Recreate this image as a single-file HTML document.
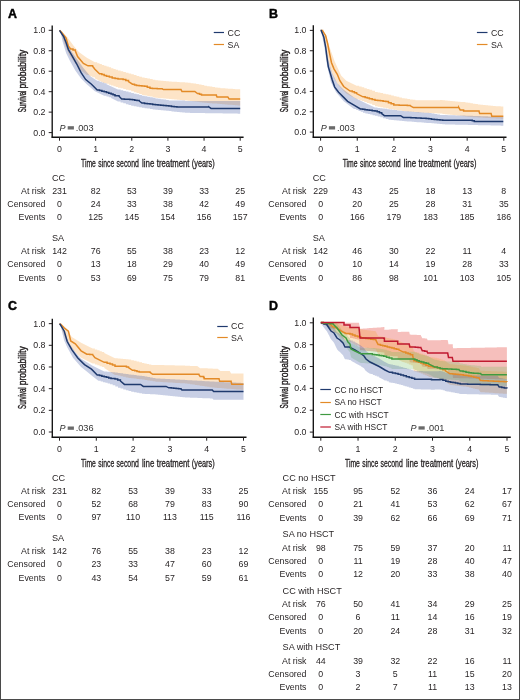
<!DOCTYPE html>
<html><head><meta charset="utf-8"><style>
html,body{margin:0;padding:0;background:#fff;}
svg{display:block;font-family:"Liberation Sans", sans-serif;filter:blur(0.25px);}
</style></head><body>
<svg width="520" height="700" viewBox="0 0 520 700">
<rect x="0" y="0" width="520" height="700" fill="#fff"/>
<text x="8" y="18.2" font-size="12.4" text-anchor="start" font-weight="bold" font-style="normal" fill="#000" stroke="#000" stroke-width="0.45">A</text>
<path d="M59.5 30.3 L62 31.5 L67.2 36.9 L73 45 L78.8 51.9 L86.8 57.7 L94.9 62.3 L97.23 62.3 L97.23 63.17 L99.55 63.17 L99.55 64.05 L101.88 64.05 L101.88 64.92 L104.2 64.92 L104.2 65.8 L106.5 65.8 L106.5 66.58 L108.8 66.58 L108.8 67.37 L111.1 67.37 L111.1 68.15 L113.4 68.15 L113.4 68.93 L115.7 68.93 L115.7 69.72 L118 69.72 L118 70.5 L120.62 70.5 L120.62 71.25 L123.25 71.25 L123.25 72 L125.88 72 L125.88 72.75 L128.5 72.75 L128.5 73.5 L131.18 73.5 L131.18 74.3 L133.86 74.3 L133.86 75.1 L136.54 75.1 L136.54 75.9 L139.22 75.9 L139.22 76.7 L141.9 76.7 L141.9 77.5 L144.6 77.5 L144.6 78.04 L147.3 78.04 L147.3 78.58 L150 78.58 L150 79.12 L152.7 79.12 L152.7 79.66 L155.4 79.66 L155.4 80.2 L158.08 80.2 L158.08 80.46 L160.76 80.46 L160.76 80.72 L163.44 80.72 L163.44 80.98 L166.12 80.98 L166.12 81.24 L168.8 81.24 L168.8 81.5 L171.5 81.5 L171.5 81.67 L174.2 81.67 L174.2 81.83 L176.9 81.83 L176.9 82 L179.6 82 L179.6 82.17 L182.3 82.17 L182.3 82.33 L185 82.33 L185 82.5 L187.83 82.5 L187.83 82.83 L190.67 82.83 L190.67 83.17 L193.5 83.17 L193.5 83.5 L196.18 83.5 L196.18 84.04 L198.86 84.04 L198.86 84.58 L201.54 84.58 L201.54 85.12 L204.22 85.12 L204.22 85.66 L206.9 85.66 L206.9 86.2 L209.6 86.2 L209.6 86.6 L212.3 86.6 L212.3 87 L215 87 L215 87.4 L217.7 87.4 L217.7 87.8 L220.4 87.8 L220.4 88.2 L222.88 88.2 L222.88 88.36 L225.35 88.36 L225.35 88.53 L227.82 88.53 L227.82 88.69 L230.3 88.69 L230.3 88.85 L232.78 88.85 L232.78 89.01 L235.25 89.01 L235.25 89.17 L237.72 89.17 L237.72 89.34 L240.2 89.34 L240.2 89.5 L240.2 105.7 L240.2 105.49 L237.64 105.49 L237.64 105.28 L235.08 105.28 L235.08 105.08 L232.52 105.08 L232.52 104.87 L229.95 104.87 L229.95 104.66 L227.39 104.66 L227.39 104.45 L224.83 104.45 L224.83 104.25 L222.27 104.25 L222.27 104.04 L219.71 104.04 L219.71 103.83 L217.15 103.83 L217.15 103.62 L214.58 103.62 L214.58 103.42 L212.02 103.42 L212.02 103.21 L209.46 103.21 L209.46 103 L206.9 103 L206.9 102.71 L204.47 102.71 L204.47 102.42 L202.03 102.42 L202.03 102.13 L199.6 102.13 L199.6 101.84 L197.17 101.84 L197.17 101.56 L194.73 101.56 L194.73 101.27 L192.3 101.27 L192.3 100.98 L189.87 100.98 L189.87 100.69 L187.43 100.69 L187.43 100.4 L185 100.4 L185 100.17 L182.3 100.17 L182.3 99.93 L179.6 99.93 L179.6 99.7 L176.9 99.7 L176.9 99.47 L174.2 99.47 L174.2 99.23 L171.5 99.23 L171.5 99 L168.8 99 L168.8 98.74 L166.12 98.74 L166.12 98.48 L163.44 98.48 L163.44 98.22 L160.76 98.22 L160.76 97.96 L158.08 97.96 L158.08 97.7 L155.4 97.7 L155.4 97.16 L152.7 97.16 L152.7 96.62 L150 96.62 L150 96.08 L147.3 96.08 L147.3 95.54 L144.6 95.54 L144.6 95 L141.9 95 L141.9 94.06 L139.22 94.06 L139.22 93.12 L136.54 93.12 L136.54 92.18 L133.86 92.18 L133.86 91.24 L131.18 91.24 L131.18 90.3 L128.5 90.3 L128.5 89.65 L125.88 89.65 L125.88 89 L123.25 89 L123.25 88.35 L120.62 88.35 L120.62 87.7 L118 87.7 L118 86.93 L115.7 86.93 L115.7 86.17 L113.4 86.17 L113.4 85.4 L111.1 85.4 L111.1 84.63 L108.8 84.63 L108.8 83.87 L106.5 83.87 L106.5 83.1 L104.2 83.1 L94.9 78.5 L94.9 77.33 L92.2 77.33 L92.2 76.17 L89.5 76.17 L89.5 75 L86.8 75 L81.1 70.4 L75.3 63.5 L69.5 55.4 L64.9 45 L61 33 L59.5 30.3 Z" fill="#f7a545" fill-opacity="0.3" stroke="none"/>
<path d="M59.5 30.3 L62 32.5 L68.4 45 L71.8 51.9 L77.6 60 L83.4 68.1 L90.3 76.2 L97.2 80.8 L99.53 80.8 L99.53 81.65 L101.85 81.65 L101.85 82.5 L104.17 82.5 L104.17 83.35 L106.5 83.35 L106.5 84.2 L118 89.5 L120.62 89.5 L120.62 90.2 L123.25 90.2 L123.25 90.9 L125.88 90.9 L125.88 91.6 L128.5 91.6 L128.5 92.3 L131.18 92.3 L131.18 92.98 L133.86 92.98 L133.86 93.66 L136.54 93.66 L136.54 94.34 L139.22 94.34 L139.22 95.02 L141.9 95.02 L141.9 95.7 L144.6 95.7 L144.6 96.24 L147.3 96.24 L147.3 96.78 L150 96.78 L150 97.32 L152.7 97.32 L152.7 97.86 L155.4 97.86 L155.4 98.4 L158.08 98.4 L158.08 98.8 L160.76 98.8 L160.76 99.2 L163.44 99.2 L163.44 99.6 L166.12 99.6 L166.12 100 L168.8 100 L168.8 100.4 L185 100.4 L185 101 L240.2 101 L240.2 101.6 L240.2 113.7 L240.2 113.66 L237.69 113.66 L237.69 113.62 L235.18 113.62 L235.18 113.58 L232.67 113.58 L232.67 113.54 L230.16 113.54 L230.16 113.5 L227.65 113.5 L227.65 113.45 L225.15 113.45 L225.15 113.41 L222.64 113.41 L222.64 113.37 L220.13 113.37 L220.13 113.33 L217.62 113.33 L217.62 113.29 L215.11 113.29 L215.11 113.25 L212.6 113.25 L212.6 113.21 L210.09 113.21 L210.09 113.17 L207.58 113.17 L207.58 113.13 L205.07 113.13 L205.07 113.09 L202.56 113.09 L202.56 113.05 L200.05 113.05 L200.05 113 L197.55 113 L197.55 112.96 L195.04 112.96 L195.04 112.92 L192.53 112.92 L192.53 112.88 L190.02 112.88 L190.02 112.84 L187.51 112.84 L187.51 112.8 L185 112.8 L185 112.52 L182.3 112.52 L182.3 112.23 L179.6 112.23 L179.6 111.95 L176.9 111.95 L176.9 111.67 L174.2 111.67 L174.2 111.38 L171.5 111.38 L171.5 111.1 L168.8 111.1 L168.8 110.84 L166.12 110.84 L166.12 110.58 L163.44 110.58 L163.44 110.32 L160.76 110.32 L160.76 110.06 L158.08 110.06 L158.08 109.8 L155.4 109.8 L155.4 109.4 L152.7 109.4 L152.7 109 L150 109 L150 108.6 L147.3 108.6 L147.3 108.2 L144.6 108.2 L144.6 107.8 L141.9 107.8 L141.9 107.26 L139.22 107.26 L139.22 106.72 L136.54 106.72 L136.54 106.18 L133.86 106.18 L133.86 105.64 L131.18 105.64 L131.18 105.1 L128.5 105.1 L128.5 104.2 L125.88 104.2 L125.88 103.3 L123.25 103.3 L123.25 102.4 L120.62 102.4 L120.62 101.5 L118 101.5 L111.1 98.1 L111.1 97.33 L108.8 97.33 L108.8 96.57 L106.5 96.57 L106.5 95.8 L104.2 95.8 L94.9 91.2 L86.8 84.2 L81.1 78.5 L75.3 70.4 L69.5 60 L66.1 53.1 L62.6 41.5 L61 34 L59.5 30.3 Z" fill="#4a5fa8" fill-opacity="0.3" stroke="none"/>
<path d="M59.5 30.3 L61.5 32.3 L66.1 38.1 L68.4 46.2 L70.7 49 L73 49 L73 49.9 L75.3 49.9 L75.3 50.8 L77.6 56.5 L83.4 63.5 L88 65.8 L92.6 65.8 L92.6 66.3 L94.9 69.2 L99.5 73.8 L101.83 73.8 L101.83 74.6 L104.17 74.6 L104.17 75.4 L106.5 75.4 L106.5 76.2 L109.35 76.2 L109.35 77.05 L112.2 77.05 L112.2 77.9 L115.1 77.9 L115.1 78.45 L118 78.45 L118 79 L123.1 79 L123.1 79.5 L125.8 79.5 L125.8 80.5 L128.5 80.5 L128.5 81.5 L132.5 84.2 L134.5 84.2 L134.5 84.9 L136.5 84.9 L136.5 85.6 L139.2 85.6 L139.2 85.8 L141.9 85.8 L141.9 86 L144.6 86 L144.6 86.2 L147.3 86.2 L147.3 87.25 L150 87.25 L150 88.3 L152.42 88.3 L152.42 88.42 L154.84 88.42 L154.84 88.54 L157.26 88.54 L157.26 88.66 L159.68 88.66 L159.68 88.78 L162.1 88.78 L162.1 88.9 L163.5 89.6 L181 89.6 L181 89.6 L182 91.5 L194.8 91.5 L194.8 91.5 L197.5 93.6 L199.5 93.6 L199.5 94.25 L201.5 94.25 L201.5 94.9 L216.3 94.9 L216.3 95.3 L217 96.9 L227.8 96.9 L227.8 96.9 L229.1 98.9 L240.2 98.9 L240.2 98.9" fill="none" stroke="#e38a27" stroke-width="1.5" stroke-linejoin="miter"/>
<path d="M59.5 30.3 L60.3 31.7 L63.8 36.9 L66.1 42.7 L68.4 49.6 L71.8 55.4 L76.5 63.5 L81.1 72.7 L85.7 79.6 L91.5 84.2 L97.2 90 L99.53 90 L99.53 90.57 L101.87 90.57 L101.87 91.13 L104.2 91.13 L104.2 91.7 L106.5 91.7 L106.5 92.47 L108.8 92.47 L108.8 93.23 L111.1 93.23 L111.1 94 L113.05 94 L113.05 94.85 L115 94.85 L115 95.7 L119 95.7 L119 96.3 L121.7 99 L124.4 99 L124.4 99.17 L127.1 99.17 L127.1 99.35 L129.8 99.35 L129.8 99.53 L132.5 99.53 L132.5 99.7 L134.73 99.7 L134.73 100.13 L136.97 100.13 L136.97 100.57 L139.2 100.57 L139.2 101 L141.9 103.1 L144.6 103.1 L144.6 103.42 L147.3 103.42 L147.3 103.75 L150 103.75 L150 104.08 L152.7 104.08 L152.7 104.4 L155.38 104.4 L155.38 104.68 L158.06 104.68 L158.06 104.96 L160.74 104.96 L160.74 105.24 L163.42 105.24 L163.42 105.52 L166.1 105.52 L166.1 105.8 L168.8 105.8 L168.8 106.12 L171.5 106.12 L171.5 106.45 L174.2 106.45 L174.2 106.77 L176.9 106.77 L176.9 107.1 L185 107.1 L185 107.1 L208.9 107.1 L208.9 107 L211 108.4 L240.2 108.4 L240.2 108.4" fill="none" stroke="#1f3a6e" stroke-width="1.5" stroke-linejoin="miter"/>
<line x1="52.2" y1="25.6" x2="52.2" y2="137.8" stroke="#111" stroke-width="1.35"/>
<line x1="51.6" y1="137.2" x2="243.6" y2="137.2" stroke="#111" stroke-width="1.35"/>
<line x1="48.7" y1="30.3" x2="52.2" y2="30.3" stroke="#231f20" stroke-width="1.0"/>
<text x="45.5" y="33.3" font-size="8.8" text-anchor="end" font-weight="normal" font-style="normal" fill="#231f20" >1.0</text>
<line x1="48.7" y1="50.76" x2="52.2" y2="50.76" stroke="#231f20" stroke-width="1.0"/>
<text x="45.5" y="53.76" font-size="8.8" text-anchor="end" font-weight="normal" font-style="normal" fill="#231f20" >0.8</text>
<line x1="48.7" y1="71.22" x2="52.2" y2="71.22" stroke="#231f20" stroke-width="1.0"/>
<text x="45.5" y="74.22" font-size="8.8" text-anchor="end" font-weight="normal" font-style="normal" fill="#231f20" >0.6</text>
<line x1="48.7" y1="91.68" x2="52.2" y2="91.68" stroke="#231f20" stroke-width="1.0"/>
<text x="45.5" y="94.68" font-size="8.8" text-anchor="end" font-weight="normal" font-style="normal" fill="#231f20" >0.4</text>
<line x1="48.7" y1="112.14" x2="52.2" y2="112.14" stroke="#231f20" stroke-width="1.0"/>
<text x="45.5" y="115.14" font-size="8.8" text-anchor="end" font-weight="normal" font-style="normal" fill="#231f20" >0.2</text>
<line x1="48.7" y1="132.6" x2="52.2" y2="132.6" stroke="#231f20" stroke-width="1.0"/>
<text x="45.5" y="135.6" font-size="8.8" text-anchor="end" font-weight="normal" font-style="normal" fill="#231f20" >0.0</text>
<line x1="59.5" y1="137.2" x2="59.5" y2="140.7" stroke="#231f20" stroke-width="1.0"/>
<text x="59.5" y="152.3" font-size="8.8" text-anchor="middle" font-weight="normal" font-style="normal" fill="#231f20" >0</text>
<line x1="95.64" y1="137.2" x2="95.64" y2="140.7" stroke="#231f20" stroke-width="1.0"/>
<text x="95.64" y="152.3" font-size="8.8" text-anchor="middle" font-weight="normal" font-style="normal" fill="#231f20" >1</text>
<line x1="131.78" y1="137.2" x2="131.78" y2="140.7" stroke="#231f20" stroke-width="1.0"/>
<text x="131.78" y="152.3" font-size="8.8" text-anchor="middle" font-weight="normal" font-style="normal" fill="#231f20" >2</text>
<line x1="167.92" y1="137.2" x2="167.92" y2="140.7" stroke="#231f20" stroke-width="1.0"/>
<text x="167.92" y="152.3" font-size="8.8" text-anchor="middle" font-weight="normal" font-style="normal" fill="#231f20" >3</text>
<line x1="204.06" y1="137.2" x2="204.06" y2="140.7" stroke="#231f20" stroke-width="1.0"/>
<text x="204.06" y="152.3" font-size="8.8" text-anchor="middle" font-weight="normal" font-style="normal" fill="#231f20" >4</text>
<line x1="240.2" y1="137.2" x2="240.2" y2="140.7" stroke="#231f20" stroke-width="1.0"/>
<text x="240.2" y="152.3" font-size="8.8" text-anchor="middle" font-weight="normal" font-style="normal" fill="#231f20" >5</text>
<text x="81" y="167.3" font-size="10.2" fill="#231f20" stroke="#231f20" stroke-width="0.3" textLength="14.9" lengthAdjust="spacingAndGlyphs">Time</text>
<text x="98.3" y="167.3" font-size="10.2" fill="#231f20" stroke="#231f20" stroke-width="0.3" textLength="16" lengthAdjust="spacingAndGlyphs">since</text>
<text x="116.6" y="167.3" font-size="10.2" fill="#231f20" stroke="#231f20" stroke-width="0.3" textLength="22.3" lengthAdjust="spacingAndGlyphs">second</text>
<text x="142.1" y="167.3" font-size="10.2" fill="#231f20" stroke="#231f20" stroke-width="0.3" textLength="12.3" lengthAdjust="spacingAndGlyphs">line</text>
<text x="156.8" y="167.3" font-size="10.2" fill="#231f20" stroke="#231f20" stroke-width="0.3" textLength="32.7" lengthAdjust="spacingAndGlyphs">treatment</text>
<text x="191.8" y="167.3" font-size="10.2" fill="#231f20" stroke="#231f20" stroke-width="0.3" textLength="22.9" lengthAdjust="spacingAndGlyphs">(years)</text>
<text x="0" y="0" font-size="10" fill="#231f20" stroke="#231f20" stroke-width="0.4" textLength="21.6" lengthAdjust="spacingAndGlyphs" transform="translate(26.4 112.2) rotate(-90)">Survival</text>
<text x="23.6" y="0" font-size="10" fill="#231f20" stroke="#231f20" stroke-width="0.4" textLength="39" lengthAdjust="spacingAndGlyphs" transform="translate(26.4 112.2) rotate(-90)">probability</text>
<line x1="213.75" y1="32.5" x2="224" y2="32.5" stroke="#1f3a6e" stroke-width="1.2"/>
<text x="227.6" y="36" font-size="8.8" text-anchor="start" font-weight="normal" font-style="normal" fill="#231f20" >CC</text>
<line x1="213.75" y1="44.5" x2="224" y2="44.5" stroke="#e38a27" stroke-width="1.2"/>
<text x="227.6" y="47.6" font-size="8.8" text-anchor="start" font-weight="normal" font-style="normal" fill="#231f20" >SA</text>
<text x="59.6" y="130.8" font-size="9" text-anchor="start" font-weight="normal" font-style="italic" fill="#333" >P</text>
<rect x="67.7" y="126.2" width="6.2" height="3.3" fill="#6a6a6a"/>
<text x="75.7" y="130.8" font-size="9.2" text-anchor="start" font-weight="normal" font-style="normal" fill="#333" >.003</text>
<text x="52" y="180.5" font-size="9.1" text-anchor="start" font-weight="normal" font-style="normal" fill="#231f20" >CC</text>
<text x="45.5" y="193.8" font-size="8.8" text-anchor="end" font-weight="normal" font-style="normal" fill="#231f20" >At risk</text>
<text x="59.5" y="193.8" font-size="8.8" text-anchor="middle" font-weight="normal" font-style="normal" fill="#231f20" >231</text>
<text x="95.64" y="193.8" font-size="8.8" text-anchor="middle" font-weight="normal" font-style="normal" fill="#231f20" >82</text>
<text x="131.78" y="193.8" font-size="8.8" text-anchor="middle" font-weight="normal" font-style="normal" fill="#231f20" >53</text>
<text x="167.92" y="193.8" font-size="8.8" text-anchor="middle" font-weight="normal" font-style="normal" fill="#231f20" >39</text>
<text x="204.06" y="193.8" font-size="8.8" text-anchor="middle" font-weight="normal" font-style="normal" fill="#231f20" >33</text>
<text x="240.2" y="193.8" font-size="8.8" text-anchor="middle" font-weight="normal" font-style="normal" fill="#231f20" >25</text>
<text x="45.5" y="207.05" font-size="8.8" text-anchor="end" font-weight="normal" font-style="normal" fill="#231f20" >Censored</text>
<text x="59.5" y="207.05" font-size="8.8" text-anchor="middle" font-weight="normal" font-style="normal" fill="#231f20" >0</text>
<text x="95.64" y="207.05" font-size="8.8" text-anchor="middle" font-weight="normal" font-style="normal" fill="#231f20" >24</text>
<text x="131.78" y="207.05" font-size="8.8" text-anchor="middle" font-weight="normal" font-style="normal" fill="#231f20" >33</text>
<text x="167.92" y="207.05" font-size="8.8" text-anchor="middle" font-weight="normal" font-style="normal" fill="#231f20" >38</text>
<text x="204.06" y="207.05" font-size="8.8" text-anchor="middle" font-weight="normal" font-style="normal" fill="#231f20" >42</text>
<text x="240.2" y="207.05" font-size="8.8" text-anchor="middle" font-weight="normal" font-style="normal" fill="#231f20" >49</text>
<text x="45.5" y="220.3" font-size="8.8" text-anchor="end" font-weight="normal" font-style="normal" fill="#231f20" >Events</text>
<text x="59.5" y="220.3" font-size="8.8" text-anchor="middle" font-weight="normal" font-style="normal" fill="#231f20" >0</text>
<text x="95.64" y="220.3" font-size="8.8" text-anchor="middle" font-weight="normal" font-style="normal" fill="#231f20" >125</text>
<text x="131.78" y="220.3" font-size="8.8" text-anchor="middle" font-weight="normal" font-style="normal" fill="#231f20" >145</text>
<text x="167.92" y="220.3" font-size="8.8" text-anchor="middle" font-weight="normal" font-style="normal" fill="#231f20" >154</text>
<text x="204.06" y="220.3" font-size="8.8" text-anchor="middle" font-weight="normal" font-style="normal" fill="#231f20" >156</text>
<text x="240.2" y="220.3" font-size="8.8" text-anchor="middle" font-weight="normal" font-style="normal" fill="#231f20" >157</text>
<text x="52" y="240.7" font-size="9.1" text-anchor="start" font-weight="normal" font-style="normal" fill="#231f20" >SA</text>
<text x="45.5" y="254" font-size="8.8" text-anchor="end" font-weight="normal" font-style="normal" fill="#231f20" >At risk</text>
<text x="59.5" y="254" font-size="8.8" text-anchor="middle" font-weight="normal" font-style="normal" fill="#231f20" >142</text>
<text x="95.64" y="254" font-size="8.8" text-anchor="middle" font-weight="normal" font-style="normal" fill="#231f20" >76</text>
<text x="131.78" y="254" font-size="8.8" text-anchor="middle" font-weight="normal" font-style="normal" fill="#231f20" >55</text>
<text x="167.92" y="254" font-size="8.8" text-anchor="middle" font-weight="normal" font-style="normal" fill="#231f20" >38</text>
<text x="204.06" y="254" font-size="8.8" text-anchor="middle" font-weight="normal" font-style="normal" fill="#231f20" >23</text>
<text x="240.2" y="254" font-size="8.8" text-anchor="middle" font-weight="normal" font-style="normal" fill="#231f20" >12</text>
<text x="45.5" y="267.25" font-size="8.8" text-anchor="end" font-weight="normal" font-style="normal" fill="#231f20" >Censored</text>
<text x="59.5" y="267.25" font-size="8.8" text-anchor="middle" font-weight="normal" font-style="normal" fill="#231f20" >0</text>
<text x="95.64" y="267.25" font-size="8.8" text-anchor="middle" font-weight="normal" font-style="normal" fill="#231f20" >13</text>
<text x="131.78" y="267.25" font-size="8.8" text-anchor="middle" font-weight="normal" font-style="normal" fill="#231f20" >18</text>
<text x="167.92" y="267.25" font-size="8.8" text-anchor="middle" font-weight="normal" font-style="normal" fill="#231f20" >29</text>
<text x="204.06" y="267.25" font-size="8.8" text-anchor="middle" font-weight="normal" font-style="normal" fill="#231f20" >40</text>
<text x="240.2" y="267.25" font-size="8.8" text-anchor="middle" font-weight="normal" font-style="normal" fill="#231f20" >49</text>
<text x="45.5" y="280.5" font-size="8.8" text-anchor="end" font-weight="normal" font-style="normal" fill="#231f20" >Events</text>
<text x="59.5" y="280.5" font-size="8.8" text-anchor="middle" font-weight="normal" font-style="normal" fill="#231f20" >0</text>
<text x="95.64" y="280.5" font-size="8.8" text-anchor="middle" font-weight="normal" font-style="normal" fill="#231f20" >53</text>
<text x="131.78" y="280.5" font-size="8.8" text-anchor="middle" font-weight="normal" font-style="normal" fill="#231f20" >69</text>
<text x="167.92" y="280.5" font-size="8.8" text-anchor="middle" font-weight="normal" font-style="normal" fill="#231f20" >75</text>
<text x="204.06" y="280.5" font-size="8.8" text-anchor="middle" font-weight="normal" font-style="normal" fill="#231f20" >79</text>
<text x="240.2" y="280.5" font-size="8.8" text-anchor="middle" font-weight="normal" font-style="normal" fill="#231f20" >81</text>
<text x="269" y="18.1" font-size="12.4" text-anchor="start" font-weight="bold" font-style="normal" fill="#000" stroke="#000" stroke-width="0.45">B</text>
<path d="M320.6 30.4 L323 30.4 L323 31 L326 36 L329.6 47.3 L334.7 61.4 L341.1 75.6 L346.3 80.7 L356.6 85.8 L359.16 85.8 L359.16 86.58 L361.72 86.58 L361.72 87.36 L364.28 87.36 L364.28 88.14 L366.84 88.14 L366.84 88.92 L369.4 88.92 L369.4 89.7 L372.2 89.7 L372.2 90.85 L375 90.85 L375 92 L377.7 92 L377.7 92.56 L380.4 92.56 L380.4 93.12 L383.1 93.12 L383.1 93.68 L385.8 93.68 L385.8 94.24 L388.5 94.24 L388.5 94.8 L391.18 94.8 L391.18 95.48 L393.86 95.48 L393.86 96.16 L396.54 96.16 L396.54 96.84 L399.22 96.84 L399.22 97.52 L401.9 97.52 L401.9 98.2 L404.6 98.2 L404.6 98.6 L407.3 98.6 L407.3 99 L410 99 L410 99.4 L412.7 99.4 L412.7 99.8 L415.4 99.8 L415.4 100.2 L440 100.2 L440 100.1 L442.54 100.1 L442.54 100.32 L445.09 100.32 L445.09 100.54 L447.63 100.54 L447.63 100.77 L450.18 100.77 L450.18 100.99 L452.72 100.99 L452.72 101.21 L455.27 101.21 L455.27 101.43 L457.81 101.43 L457.81 101.66 L460.36 101.66 L460.36 101.88 L462.9 101.88 L462.9 102.1 L465.4 102.1 L465.4 102.49 L467.9 102.49 L467.9 102.87 L470.4 102.87 L470.4 103.26 L472.9 103.26 L472.9 103.64 L475.4 103.64 L475.4 104.03 L477.9 104.03 L477.9 104.41 L480.4 104.41 L480.4 104.8 L482.94 104.8 L482.94 105.02 L485.49 105.02 L485.49 105.24 L488.03 105.24 L488.03 105.47 L490.58 105.47 L490.58 105.69 L493.12 105.69 L493.12 105.91 L495.67 105.91 L495.67 106.13 L498.21 106.13 L498.21 106.36 L500.76 106.36 L500.76 106.58 L503.3 106.58 L503.3 106.8 L503.3 118.9 L503.3 118.75 L500.74 118.75 L500.74 118.61 L498.18 118.61 L498.18 118.46 L495.62 118.46 L495.62 118.32 L493.05 118.32 L493.05 118.17 L490.49 118.17 L490.49 118.02 L487.93 118.02 L487.93 117.88 L485.37 117.88 L485.37 117.73 L482.81 117.73 L482.81 117.58 L480.25 117.58 L480.25 117.44 L477.68 117.44 L477.68 117.29 L475.12 117.29 L475.12 117.15 L472.56 117.15 L472.56 117 L470 117 L470 116.72 L467.5 116.72 L467.5 116.43 L465 116.43 L465 116.15 L462.5 116.15 L462.5 115.87 L460 115.87 L460 115.58 L457.5 115.58 L457.5 115.3 L455 115.3 L455 115.02 L452.5 115.02 L452.5 114.73 L450 114.73 L450 114.45 L447.5 114.45 L447.5 114.17 L445 114.17 L445 113.88 L442.5 113.88 L442.5 113.6 L440 113.6 L440 113.47 L437.54 113.47 L437.54 113.34 L435.08 113.34 L435.08 113.21 L432.62 113.21 L432.62 113.08 L430.16 113.08 L430.16 112.95 L427.7 112.95 L427.7 112.82 L425.24 112.82 L425.24 112.69 L422.78 112.69 L422.78 112.56 L420.32 112.56 L420.32 112.43 L417.86 112.43 L417.86 112.3 L415.4 112.3 L415.4 112.04 L412.7 112.04 L412.7 111.78 L410 111.78 L410 111.52 L407.3 111.52 L407.3 111.26 L404.6 111.26 L404.6 111 L401.9 111 L401.9 110.58 L399.22 110.58 L399.22 110.16 L396.54 110.16 L396.54 109.74 L393.86 109.74 L393.86 109.32 L391.18 109.32 L391.18 108.9 L388.5 108.9 L388.5 108.36 L385.8 108.36 L385.8 107.82 L383.1 107.82 L383.1 107.28 L380.4 107.28 L380.4 106.74 L377.7 106.74 L377.7 106.2 L375 106.2 L375 105 L372.2 105 L372.2 103.8 L369.4 103.8 L369.4 102.9 L366.84 102.9 L366.84 102 L364.28 102 L364.28 101.1 L361.72 101.1 L361.72 100.2 L359.16 100.2 L359.16 99.3 L356.6 99.3 L346.3 93.6 L339.9 87.1 L334.7 79.4 L330.9 70.4 L328 60 L325 45 L322 33 L320.6 30.4 Z" fill="#f7a545" fill-opacity="0.3" stroke="none"/>
<path d="M320.6 30.4 L322 32 L325 45 L328.3 60.1 L332.1 73 L337.3 83.3 L343.7 89.7 L354 97.4 L366.8 103.8 L375 107.6 L377.45 107.6 L377.45 107.91 L379.89 107.91 L379.89 108.22 L382.34 108.22 L382.34 108.53 L384.78 108.53 L384.78 108.84 L387.23 108.84 L387.23 109.15 L389.67 109.15 L389.67 109.45 L392.12 109.45 L392.12 109.76 L394.56 109.76 L394.56 110.07 L397.01 110.07 L397.01 110.38 L399.45 110.38 L399.45 110.69 L401.9 110.69 L401.9 111 L404.35 111 L404.35 111.18 L406.79 111.18 L406.79 111.36 L409.24 111.36 L409.24 111.55 L411.68 111.55 L411.68 111.73 L414.13 111.73 L414.13 111.91 L416.57 111.91 L416.57 112.09 L419.02 112.09 L419.02 112.27 L421.46 112.27 L421.46 112.45 L423.91 112.45 L423.91 112.64 L426.35 112.64 L426.35 112.82 L428.8 112.82 L428.8 113 L431.6 113 L431.6 113.47 L434.4 113.47 L434.4 113.95 L437.2 113.95 L437.2 114.43 L440 114.43 L440 114.9 L442.53 114.9 L442.53 114.98 L445.06 114.98 L445.06 115.06 L447.6 115.06 L447.6 115.14 L450.13 115.14 L450.13 115.22 L452.66 115.22 L452.66 115.3 L455.19 115.3 L455.19 115.38 L457.72 115.38 L457.72 115.46 L460.26 115.46 L460.26 115.54 L462.79 115.54 L462.79 115.62 L465.32 115.62 L465.32 115.7 L467.85 115.7 L467.85 115.78 L470.38 115.78 L470.38 115.86 L472.92 115.86 L472.92 115.94 L475.45 115.94 L475.45 116.02 L477.98 116.02 L477.98 116.1 L480.51 116.1 L480.51 116.18 L483.04 116.18 L483.04 116.26 L485.58 116.26 L485.58 116.34 L488.11 116.34 L488.11 116.42 L490.64 116.42 L490.64 116.5 L493.17 116.5 L493.17 116.58 L495.7 116.58 L495.7 116.66 L498.24 116.66 L498.24 116.74 L500.77 116.74 L500.77 116.82 L503.3 116.82 L503.3 116.9 L503.3 125.7 L503.3 125.64 L500.77 125.64 L500.77 125.59 L498.23 125.59 L498.23 125.53 L495.7 125.53 L495.7 125.47 L493.16 125.47 L493.16 125.42 L490.63 125.42 L490.63 125.36 L488.09 125.36 L488.09 125.3 L485.56 125.3 L485.56 125.25 L483.02 125.25 L483.02 125.19 L480.49 125.19 L480.49 125.13 L477.95 125.13 L477.95 125.08 L475.42 125.08 L475.42 125.02 L472.88 125.02 L472.88 124.97 L470.35 124.97 L470.35 124.91 L467.81 124.91 L467.81 124.85 L465.28 124.85 L465.28 124.8 L462.74 124.8 L462.74 124.74 L460.21 124.74 L460.21 124.68 L457.67 124.68 L457.67 124.63 L455.14 124.63 L455.14 124.57 L452.6 124.57 L452.6 124.51 L450.07 124.51 L450.07 124.46 L447.53 124.46 L447.53 124.4 L445 124.4 L445 124.18 L442.3 124.18 L442.3 123.97 L439.6 123.97 L439.6 123.75 L436.9 123.75 L436.9 123.53 L434.2 123.53 L434.2 123.32 L431.5 123.32 L431.5 123.1 L428.8 123.1 L428.8 122.91 L426.35 122.91 L426.35 122.72 L423.91 122.72 L423.91 122.53 L421.46 122.53 L421.46 122.34 L419.02 122.34 L419.02 122.15 L416.57 122.15 L416.57 121.95 L414.13 121.95 L414.13 121.76 L411.68 121.76 L411.68 121.57 L409.24 121.57 L409.24 121.38 L406.79 121.38 L406.79 121.19 L404.35 121.19 L404.35 121 L401.9 121 L401.9 120.74 L399.22 120.74 L399.22 120.48 L396.54 120.48 L396.54 120.22 L393.86 120.22 L393.86 119.96 L391.18 119.96 L391.18 119.7 L388.5 119.7 L388.5 118.92 L385.8 118.92 L385.8 118.14 L383.1 118.14 L383.1 117.36 L380.4 117.36 L380.4 116.58 L377.7 116.58 L377.7 115.8 L375 115.8 L375 115.2 L372.6 115.2 L372.6 114.6 L370.2 114.6 L370.2 114 L367.8 114 L367.8 113.4 L365.4 113.4 L365.4 112.8 L363 112.8 L363 111.85 L360.75 111.85 L360.75 110.9 L358.5 110.9 L358.5 109.95 L356.25 109.95 L356.25 109 L354 109 L343.7 101.3 L336 92.3 L330.9 82 L327 65.3 L324.4 47.3 L321.5 33 L320.6 30.4 Z" fill="#4a5fa8" fill-opacity="0.3" stroke="none"/>
<path d="M320.6 30.4 L322.5 30.4 L322.5 30.6 L325.7 35.7 L327.6 43.4 L329.6 53.7 L331.5 62.7 L334.1 69.1 L337.3 74.3 L339.9 80.7 L343.7 86.5 L350.1 91 L352.27 91 L352.27 91.87 L354.43 91.87 L354.43 92.73 L356.6 92.73 L356.6 93.6 L363 96.8 L365.13 96.8 L365.13 97.43 L367.27 97.43 L367.27 98.07 L369.4 98.07 L369.4 98.7 L372.2 98.7 L372.2 99.45 L375 99.45 L375 100.2 L377.7 100.2 L377.7 100.53 L380.4 100.53 L380.4 100.85 L383.1 100.85 L383.1 101.17 L385.8 101.17 L385.8 101.5 L388.47 101.5 L388.47 102.63 L391.13 102.63 L391.13 103.77 L393.8 103.77 L393.8 104.9 L396.5 104.9 L396.5 105.02 L399.2 105.02 L399.2 105.13 L401.9 105.13 L401.9 105.25 L404.6 105.25 L404.6 105.37 L407.3 105.37 L407.3 105.48 L410 105.48 L410 105.6 L413.4 107.6 L458.8 107.6 L458.8 107.5 L460.2 109.9 L463.6 109.9 L463.6 110.9 L479 110.9 L479 111.3 L479.7 113.6 L491.1 113.6 L491.1 113.6 L491.8 116.2 L503.3 116.2 L503.3 116.2" fill="none" stroke="#e38a27" stroke-width="1.5" stroke-linejoin="miter"/>
<path d="M320.6 30.4 L321.2 30.4 L321.2 30.6 L323.8 37 L325.7 47.3 L327 57.6 L328.3 66.6 L330.2 73 L332.1 79.4 L334.7 87.1 L338.6 92.3 L343.7 97.4 L347.6 101.3 L354 105.1 L360.4 109 L362.65 109 L362.65 109.33 L364.9 109.33 L364.9 109.65 L367.15 109.65 L367.15 109.97 L369.4 109.97 L369.4 110.3 L372.2 110.3 L372.2 110.65 L375 110.65 L375 111 L377.23 111 L377.23 111.87 L379.47 111.87 L379.47 112.73 L381.7 112.73 L381.7 113.6 L384.4 115.7 L400.6 115.7 L400.6 115.7 L403.3 117.4 L405.83 117.4 L405.83 117.51 L408.37 117.51 L408.37 117.62 L410.9 117.62 L410.9 117.73 L413.43 117.73 L413.43 117.84 L415.97 117.84 L415.97 117.96 L418.5 117.96 L418.5 118.07 L421.03 118.07 L421.03 118.18 L423.57 118.18 L423.57 118.29 L426.1 118.29 L426.1 118.4 L428.8 118.4 L428.8 118.85 L431.5 118.85 L431.5 119.3 L434.3 119.3 L434.3 119.55 L437.1 119.55 L437.1 119.8 L439.9 119.8 L439.9 120.05 L442.7 120.05 L442.7 120.3 L472.3 120.3 L472.3 120.7 L474.3 120.7 L474.3 121.6 L503.3 121.6 L503.3 121.6" fill="none" stroke="#1f3a6e" stroke-width="1.5" stroke-linejoin="miter"/>
<line x1="313.3" y1="25.3" x2="313.3" y2="137.8" stroke="#111" stroke-width="1.35"/>
<line x1="312.7" y1="137.2" x2="506.5" y2="137.2" stroke="#111" stroke-width="1.35"/>
<line x1="309.8" y1="30.4" x2="313.3" y2="30.4" stroke="#231f20" stroke-width="1.0"/>
<text x="306.5" y="33.4" font-size="8.8" text-anchor="end" font-weight="normal" font-style="normal" fill="#231f20" >1.0</text>
<line x1="309.8" y1="50.74" x2="313.3" y2="50.74" stroke="#231f20" stroke-width="1.0"/>
<text x="306.5" y="53.74" font-size="8.8" text-anchor="end" font-weight="normal" font-style="normal" fill="#231f20" >0.8</text>
<line x1="309.8" y1="71.08" x2="313.3" y2="71.08" stroke="#231f20" stroke-width="1.0"/>
<text x="306.5" y="74.08" font-size="8.8" text-anchor="end" font-weight="normal" font-style="normal" fill="#231f20" >0.6</text>
<line x1="309.8" y1="91.42" x2="313.3" y2="91.42" stroke="#231f20" stroke-width="1.0"/>
<text x="306.5" y="94.42" font-size="8.8" text-anchor="end" font-weight="normal" font-style="normal" fill="#231f20" >0.4</text>
<line x1="309.8" y1="111.76" x2="313.3" y2="111.76" stroke="#231f20" stroke-width="1.0"/>
<text x="306.5" y="114.76" font-size="8.8" text-anchor="end" font-weight="normal" font-style="normal" fill="#231f20" >0.2</text>
<line x1="309.8" y1="132.1" x2="313.3" y2="132.1" stroke="#231f20" stroke-width="1.0"/>
<text x="306.5" y="135.1" font-size="8.8" text-anchor="end" font-weight="normal" font-style="normal" fill="#231f20" >0.0</text>
<line x1="320.6" y1="137.2" x2="320.6" y2="140.7" stroke="#231f20" stroke-width="1.0"/>
<text x="320.6" y="152.3" font-size="8.8" text-anchor="middle" font-weight="normal" font-style="normal" fill="#231f20" >0</text>
<line x1="357.24" y1="137.2" x2="357.24" y2="140.7" stroke="#231f20" stroke-width="1.0"/>
<text x="357.24" y="152.3" font-size="8.8" text-anchor="middle" font-weight="normal" font-style="normal" fill="#231f20" >1</text>
<line x1="393.88" y1="137.2" x2="393.88" y2="140.7" stroke="#231f20" stroke-width="1.0"/>
<text x="393.88" y="152.3" font-size="8.8" text-anchor="middle" font-weight="normal" font-style="normal" fill="#231f20" >2</text>
<line x1="430.52" y1="137.2" x2="430.52" y2="140.7" stroke="#231f20" stroke-width="1.0"/>
<text x="430.52" y="152.3" font-size="8.8" text-anchor="middle" font-weight="normal" font-style="normal" fill="#231f20" >3</text>
<line x1="467.16" y1="137.2" x2="467.16" y2="140.7" stroke="#231f20" stroke-width="1.0"/>
<text x="467.16" y="152.3" font-size="8.8" text-anchor="middle" font-weight="normal" font-style="normal" fill="#231f20" >4</text>
<line x1="503.8" y1="137.2" x2="503.8" y2="140.7" stroke="#231f20" stroke-width="1.0"/>
<text x="503.8" y="152.3" font-size="8.8" text-anchor="middle" font-weight="normal" font-style="normal" fill="#231f20" >5</text>
<text x="342.7" y="167.4" font-size="10.2" fill="#231f20" stroke="#231f20" stroke-width="0.3" textLength="14.9" lengthAdjust="spacingAndGlyphs">Time</text>
<text x="360" y="167.4" font-size="10.2" fill="#231f20" stroke="#231f20" stroke-width="0.3" textLength="16" lengthAdjust="spacingAndGlyphs">since</text>
<text x="378.3" y="167.4" font-size="10.2" fill="#231f20" stroke="#231f20" stroke-width="0.3" textLength="22.3" lengthAdjust="spacingAndGlyphs">second</text>
<text x="403.8" y="167.4" font-size="10.2" fill="#231f20" stroke="#231f20" stroke-width="0.3" textLength="12.3" lengthAdjust="spacingAndGlyphs">line</text>
<text x="418.5" y="167.4" font-size="10.2" fill="#231f20" stroke="#231f20" stroke-width="0.3" textLength="32.7" lengthAdjust="spacingAndGlyphs">treatment</text>
<text x="453.5" y="167.4" font-size="10.2" fill="#231f20" stroke="#231f20" stroke-width="0.3" textLength="22.9" lengthAdjust="spacingAndGlyphs">(years)</text>
<text x="0" y="0" font-size="10" fill="#231f20" stroke="#231f20" stroke-width="0.4" textLength="21.6" lengthAdjust="spacingAndGlyphs" transform="translate(287.6 112.2) rotate(-90)">Survival</text>
<text x="23.6" y="0" font-size="10" fill="#231f20" stroke="#231f20" stroke-width="0.4" textLength="39" lengthAdjust="spacingAndGlyphs" transform="translate(287.6 112.2) rotate(-90)">probability</text>
<line x1="476.9" y1="32.5" x2="487.5" y2="32.5" stroke="#1f3a6e" stroke-width="1.2"/>
<text x="490.9" y="36" font-size="8.8" text-anchor="start" font-weight="normal" font-style="normal" fill="#231f20" >CC</text>
<line x1="476.9" y1="44.5" x2="487.5" y2="44.5" stroke="#e38a27" stroke-width="1.2"/>
<text x="490.9" y="47.6" font-size="8.8" text-anchor="start" font-weight="normal" font-style="normal" fill="#231f20" >SA</text>
<text x="320.8" y="130.8" font-size="9" text-anchor="start" font-weight="normal" font-style="italic" fill="#333" >P</text>
<rect x="328.9" y="126.2" width="6.2" height="3.3" fill="#6a6a6a"/>
<text x="336.9" y="130.8" font-size="9.2" text-anchor="start" font-weight="normal" font-style="normal" fill="#333" >.003</text>
<text x="312.8" y="180.6" font-size="9.1" text-anchor="start" font-weight="normal" font-style="normal" fill="#231f20" >CC</text>
<text x="306.5" y="193.9" font-size="8.8" text-anchor="end" font-weight="normal" font-style="normal" fill="#231f20" >At risk</text>
<text x="320.6" y="193.9" font-size="8.8" text-anchor="middle" font-weight="normal" font-style="normal" fill="#231f20" >229</text>
<text x="357.24" y="193.9" font-size="8.8" text-anchor="middle" font-weight="normal" font-style="normal" fill="#231f20" >43</text>
<text x="393.88" y="193.9" font-size="8.8" text-anchor="middle" font-weight="normal" font-style="normal" fill="#231f20" >25</text>
<text x="430.52" y="193.9" font-size="8.8" text-anchor="middle" font-weight="normal" font-style="normal" fill="#231f20" >18</text>
<text x="467.16" y="193.9" font-size="8.8" text-anchor="middle" font-weight="normal" font-style="normal" fill="#231f20" >13</text>
<text x="503.8" y="193.9" font-size="8.8" text-anchor="middle" font-weight="normal" font-style="normal" fill="#231f20" >8</text>
<text x="306.5" y="207.15" font-size="8.8" text-anchor="end" font-weight="normal" font-style="normal" fill="#231f20" >Censored</text>
<text x="320.6" y="207.15" font-size="8.8" text-anchor="middle" font-weight="normal" font-style="normal" fill="#231f20" >0</text>
<text x="357.24" y="207.15" font-size="8.8" text-anchor="middle" font-weight="normal" font-style="normal" fill="#231f20" >20</text>
<text x="393.88" y="207.15" font-size="8.8" text-anchor="middle" font-weight="normal" font-style="normal" fill="#231f20" >25</text>
<text x="430.52" y="207.15" font-size="8.8" text-anchor="middle" font-weight="normal" font-style="normal" fill="#231f20" >28</text>
<text x="467.16" y="207.15" font-size="8.8" text-anchor="middle" font-weight="normal" font-style="normal" fill="#231f20" >31</text>
<text x="503.8" y="207.15" font-size="8.8" text-anchor="middle" font-weight="normal" font-style="normal" fill="#231f20" >35</text>
<text x="306.5" y="220.4" font-size="8.8" text-anchor="end" font-weight="normal" font-style="normal" fill="#231f20" >Events</text>
<text x="320.6" y="220.4" font-size="8.8" text-anchor="middle" font-weight="normal" font-style="normal" fill="#231f20" >0</text>
<text x="357.24" y="220.4" font-size="8.8" text-anchor="middle" font-weight="normal" font-style="normal" fill="#231f20" >166</text>
<text x="393.88" y="220.4" font-size="8.8" text-anchor="middle" font-weight="normal" font-style="normal" fill="#231f20" >179</text>
<text x="430.52" y="220.4" font-size="8.8" text-anchor="middle" font-weight="normal" font-style="normal" fill="#231f20" >183</text>
<text x="467.16" y="220.4" font-size="8.8" text-anchor="middle" font-weight="normal" font-style="normal" fill="#231f20" >185</text>
<text x="503.8" y="220.4" font-size="8.8" text-anchor="middle" font-weight="normal" font-style="normal" fill="#231f20" >186</text>
<text x="312.8" y="240.8" font-size="9.1" text-anchor="start" font-weight="normal" font-style="normal" fill="#231f20" >SA</text>
<text x="306.5" y="254.1" font-size="8.8" text-anchor="end" font-weight="normal" font-style="normal" fill="#231f20" >At risk</text>
<text x="320.6" y="254.1" font-size="8.8" text-anchor="middle" font-weight="normal" font-style="normal" fill="#231f20" >142</text>
<text x="357.24" y="254.1" font-size="8.8" text-anchor="middle" font-weight="normal" font-style="normal" fill="#231f20" >46</text>
<text x="393.88" y="254.1" font-size="8.8" text-anchor="middle" font-weight="normal" font-style="normal" fill="#231f20" >30</text>
<text x="430.52" y="254.1" font-size="8.8" text-anchor="middle" font-weight="normal" font-style="normal" fill="#231f20" >22</text>
<text x="467.16" y="254.1" font-size="8.8" text-anchor="middle" font-weight="normal" font-style="normal" fill="#231f20" >11</text>
<text x="503.8" y="254.1" font-size="8.8" text-anchor="middle" font-weight="normal" font-style="normal" fill="#231f20" >4</text>
<text x="306.5" y="267.35" font-size="8.8" text-anchor="end" font-weight="normal" font-style="normal" fill="#231f20" >Censored</text>
<text x="320.6" y="267.35" font-size="8.8" text-anchor="middle" font-weight="normal" font-style="normal" fill="#231f20" >0</text>
<text x="357.24" y="267.35" font-size="8.8" text-anchor="middle" font-weight="normal" font-style="normal" fill="#231f20" >10</text>
<text x="393.88" y="267.35" font-size="8.8" text-anchor="middle" font-weight="normal" font-style="normal" fill="#231f20" >14</text>
<text x="430.52" y="267.35" font-size="8.8" text-anchor="middle" font-weight="normal" font-style="normal" fill="#231f20" >19</text>
<text x="467.16" y="267.35" font-size="8.8" text-anchor="middle" font-weight="normal" font-style="normal" fill="#231f20" >28</text>
<text x="503.8" y="267.35" font-size="8.8" text-anchor="middle" font-weight="normal" font-style="normal" fill="#231f20" >33</text>
<text x="306.5" y="280.6" font-size="8.8" text-anchor="end" font-weight="normal" font-style="normal" fill="#231f20" >Events</text>
<text x="320.6" y="280.6" font-size="8.8" text-anchor="middle" font-weight="normal" font-style="normal" fill="#231f20" >0</text>
<text x="357.24" y="280.6" font-size="8.8" text-anchor="middle" font-weight="normal" font-style="normal" fill="#231f20" >86</text>
<text x="393.88" y="280.6" font-size="8.8" text-anchor="middle" font-weight="normal" font-style="normal" fill="#231f20" >98</text>
<text x="430.52" y="280.6" font-size="8.8" text-anchor="middle" font-weight="normal" font-style="normal" fill="#231f20" >101</text>
<text x="467.16" y="280.6" font-size="8.8" text-anchor="middle" font-weight="normal" font-style="normal" fill="#231f20" >103</text>
<text x="503.8" y="280.6" font-size="8.8" text-anchor="middle" font-weight="normal" font-style="normal" fill="#231f20" >105</text>
<text x="8" y="310.2" font-size="12.4" text-anchor="start" font-weight="bold" font-style="normal" fill="#000" stroke="#000" stroke-width="0.45">C</text>
<path d="M59.5 323.65 L62 323.65 L62 324.5 L66 328 L71.8 336.9 L81.1 342.7 L92.6 348.5 L94.92 348.5 L94.92 349.4 L97.24 349.4 L97.24 350.3 L99.56 350.3 L99.56 351.2 L101.88 351.2 L101.88 352.1 L104.2 352.1 L104.2 353 L115 358.2 L117.7 358.2 L117.7 358.46 L120.4 358.46 L120.4 358.72 L123.1 358.72 L123.1 358.98 L125.8 358.98 L125.8 359.24 L128.5 359.24 L128.5 359.5 L131.2 359.5 L131.2 360.18 L133.9 360.18 L133.9 360.86 L136.6 360.86 L136.6 361.54 L139.3 361.54 L139.3 362.22 L142 362.22 L142 362.9 L144.32 362.9 L144.32 363.4 L146.65 363.4 L146.65 363.9 L148.98 363.9 L148.98 364.4 L151.3 364.4 L151.3 364.9 L153.91 364.9 L153.91 364.95 L156.52 364.95 L156.52 365.01 L159.13 365.01 L159.13 365.06 L161.74 365.06 L161.74 365.12 L164.35 365.12 L164.35 365.17 L166.95 365.17 L166.95 365.23 L169.56 365.23 L169.56 365.28 L172.17 365.28 L172.17 365.34 L174.78 365.34 L174.78 365.39 L177.39 365.39 L177.39 365.45 L180 365.45 L180 365.5 L182.5 365.5 L182.5 365.6 L185 365.6 L185 365.7 L187.5 365.7 L187.5 365.8 L190 365.8 L190 365.9 L192.5 365.9 L192.5 366 L195 366 L195 366.1 L197.5 366.1 L197.5 366.2 L200.2 368.2 L202.7 368.2 L202.7 368.29 L205.2 368.29 L205.2 368.37 L207.7 368.37 L207.7 368.46 L210.2 368.46 L210.2 368.54 L212.7 368.54 L212.7 368.63 L215.2 368.63 L215.2 368.71 L217.7 368.71 L217.7 368.8 L220.4 370.9 L229.8 370.9 L229.8 371.3 L231.1 373.6 L243.5 373.6 L243.5 373.6 L243.5 390 L243.5 389.81 L241.08 389.81 L241.08 389.62 L238.65 389.62 L238.65 389.42 L236.23 389.42 L236.23 389.23 L233.81 389.23 L233.81 389.04 L231.38 389.04 L231.38 388.85 L228.96 388.85 L228.96 388.65 L226.54 388.65 L226.54 388.46 L224.12 388.46 L224.12 388.27 L221.69 388.27 L221.69 388.08 L219.27 388.08 L219.27 387.88 L216.85 387.88 L216.85 387.69 L214.42 387.69 L214.42 387.5 L212 387.5 L212 387.14 L209.55 387.14 L209.55 386.77 L207.09 386.77 L207.09 386.41 L204.64 386.41 L204.64 386.05 L202.18 386.05 L202.18 385.68 L199.73 385.68 L199.73 385.32 L197.27 385.32 L197.27 384.95 L194.82 384.95 L194.82 384.59 L192.36 384.59 L192.36 384.23 L189.91 384.23 L189.91 383.86 L187.45 383.86 L187.45 383.5 L185 383.5 L185 383.35 L182.53 383.35 L182.53 383.2 L180.07 383.2 L180.07 383.05 L177.6 383.05 L177.6 382.9 L175.13 382.9 L175.13 382.75 L172.67 382.75 L172.67 382.6 L170.2 382.6 L170.2 382.45 L167.73 382.45 L167.73 382.3 L165.27 382.3 L165.27 382.15 L162.8 382.15 L162.8 382 L160.33 382 L160.33 381.85 L157.87 381.85 L157.87 381.7 L155.4 381.7 L155.4 381.26 L152.72 381.26 L152.72 380.82 L150.04 380.82 L150.04 380.38 L147.36 380.38 L147.36 379.94 L144.68 379.94 L144.68 379.5 L142 379.5 L142 379.2 L139.3 379.2 L139.3 378.9 L136.6 378.9 L136.6 378.6 L133.9 378.6 L133.9 378.3 L131.2 378.3 L131.2 378 L128.5 378 L128.5 377.4 L125.8 377.4 L125.8 376.8 L123.1 376.8 L123.1 376.2 L120.4 376.2 L120.4 375.6 L117.7 375.6 L117.7 375 L115 375 L104.2 368 L104.2 367.1 L101.88 367.1 L101.88 366.2 L99.56 366.2 L99.56 365.3 L97.24 365.3 L97.24 364.4 L94.92 364.4 L94.92 363.5 L92.6 363.5 L81.1 357.7 L71.8 348.5 L65 338 L61 327 L59.5 323.65 Z" fill="#f7a545" fill-opacity="0.3" stroke="none"/>
<path d="M59.5 323.65 L62 327 L69.5 343.8 L75.3 351.9 L81.1 358.8 L92.6 365.8 L104.2 371.5 L106.9 371.5 L106.9 371.75 L109.6 371.75 L109.6 372 L112.3 372 L112.3 372.25 L115 372.25 L115 372.5 L117.7 372.5 L117.7 372.9 L120.4 372.9 L120.4 373.3 L123.1 373.3 L123.1 373.7 L125.8 373.7 L125.8 374.1 L128.5 374.1 L128.5 374.5 L131.2 374.5 L131.2 374.8 L133.9 374.8 L133.9 375.1 L136.6 375.1 L136.6 375.4 L139.3 375.4 L139.3 375.7 L142 375.7 L142 376 L144.68 376 L144.68 376.48 L147.36 376.48 L147.36 376.96 L150.04 376.96 L150.04 377.44 L152.72 377.44 L152.72 377.92 L155.4 377.92 L155.4 378.4 L157.87 378.4 L157.87 378.53 L160.33 378.53 L160.33 378.67 L162.8 378.67 L162.8 378.8 L165.27 378.8 L165.27 378.93 L167.73 378.93 L167.73 379.07 L170.2 379.07 L170.2 379.2 L172.67 379.2 L172.67 379.33 L175.13 379.33 L175.13 379.47 L177.6 379.47 L177.6 379.6 L180.07 379.6 L180.07 379.73 L182.53 379.73 L182.53 379.87 L185 379.87 L185 380 L187.45 380 L187.45 380.15 L189.91 380.15 L189.91 380.29 L192.36 380.29 L192.36 380.44 L194.82 380.44 L194.82 380.58 L197.27 380.58 L197.27 380.73 L199.73 380.73 L199.73 380.87 L202.18 380.87 L202.18 381.02 L204.64 381.02 L204.64 381.16 L207.09 381.16 L207.09 381.31 L209.55 381.31 L209.55 381.45 L212 381.45 L212 381.6 L214.42 381.6 L214.42 381.71 L216.85 381.71 L216.85 381.82 L219.27 381.82 L219.27 381.92 L221.69 381.92 L221.69 382.03 L224.12 382.03 L224.12 382.14 L226.54 382.14 L226.54 382.25 L228.96 382.25 L228.96 382.35 L231.38 382.35 L231.38 382.46 L233.81 382.46 L233.81 382.57 L236.23 382.57 L236.23 382.68 L238.65 382.68 L238.65 382.78 L241.08 382.78 L241.08 382.89 L243.5 382.89 L243.5 383 L243.5 399.8 L243.5 399.8 L213.6 399.8 L212.3 398.5 L212.3 398.41 L209.82 398.41 L209.82 398.32 L207.34 398.32 L207.34 398.23 L204.85 398.23 L204.85 398.14 L202.37 398.14 L202.37 398.05 L199.89 398.05 L199.89 397.95 L197.41 397.95 L197.41 397.86 L194.93 397.86 L194.93 397.77 L192.45 397.77 L192.45 397.68 L189.96 397.68 L189.96 397.59 L187.48 397.59 L187.48 397.5 L185 397.5 L185 397.25 L182.53 397.25 L182.53 397 L180.07 397 L180.07 396.75 L177.6 396.75 L177.6 396.5 L175.13 396.5 L175.13 396.25 L172.67 396.25 L172.67 396 L170.2 396 L170.2 395.75 L167.73 395.75 L167.73 395.5 L165.27 395.5 L165.27 395.25 L162.8 395.25 L162.8 395 L160.33 395 L160.33 394.75 L157.87 394.75 L157.87 394.5 L155.4 394.5 L155.4 394.36 L152.72 394.36 L152.72 394.22 L150.04 394.22 L150.04 394.08 L147.36 394.08 L147.36 393.94 L144.68 393.94 L144.68 393.8 L142 393.8 L142 393.26 L139.3 393.26 L139.3 392.72 L136.6 392.72 L136.6 392.18 L133.9 392.18 L133.9 391.64 L131.2 391.64 L131.2 391.1 L128.5 391.1 L128.5 390.25 L125.88 390.25 L125.88 389.4 L123.25 389.4 L123.25 388.55 L120.62 388.55 L120.62 387.7 L118 387.7 L118 386.53 L115.33 386.53 L115.33 385.37 L112.67 385.37 L112.67 384.2 L110 384.2 L110 383.52 L107.68 383.52 L107.68 382.84 L105.36 382.84 L105.36 382.16 L103.04 382.16 L103.04 381.48 L100.72 381.48 L100.72 380.8 L98.4 380.8 L92.6 376.2 L86.8 371.5 L81.1 366.9 L73 357.7 L67.2 347.3 L64 340 L61 327 L59.5 323.65 Z" fill="#4a5fa8" fill-opacity="0.3" stroke="none"/>
<path d="M59.5 323.65 L61 324.5 L64.3 328 L68.4 331.2 L70.7 341 L75.3 343.8 L81.1 350.8 L86.8 354.2 L89.7 354.2 L89.7 354.5 L92.6 354.5 L92.6 354.8 L94.9 357.7 L104.2 362.3 L107.1 362.3 L107.1 363.15 L110 363.15 L110 364 L112.5 364 L112.5 365.1 L115 365.1 L115 366.2 L124.4 366.2 L124.4 366.2 L126.45 366.2 L126.45 366.9 L128.5 366.9 L128.5 367.6 L132.5 370.3 L134.73 370.3 L134.73 370.87 L136.97 370.87 L136.97 371.43 L139.2 371.43 L139.2 372 L150 372 L150 372.3 L152.7 374.3 L198.8 374.3 L198.8 374.5 L200.2 376.6 L203.6 376.6 L203.6 377.6 L204.2 377.6 L204.2 378.7 L219 378.7 L219 379 L219.7 381.2 L231.1 381.2 L231.1 381.6 L231.8 384.3 L243.5 384.3 L243.5 384.3" fill="none" stroke="#e38a27" stroke-width="1.5" stroke-linejoin="miter"/>
<path d="M59.5 323.65 L60.3 324.6 L64.3 331.2 L67.2 341.5 L71.8 349.6 L77.6 357.7 L84.5 364.6 L91.5 369.2 L97.2 375 L99.53 375 L99.53 375.57 L101.87 375.57 L101.87 376.13 L104.2 376.13 L104.2 376.7 L106.47 376.7 L106.47 377.3 L108.73 377.3 L108.73 377.9 L111 377.9 L111 378.5 L115 378.5 L115 379 L117.7 379 L117.7 380 L120.4 380 L120.4 381 L124.4 384.4 L140.6 384.4 L140.6 384.4 L143.3 386.4 L166.1 386.4 L166.1 386.4 L168.8 387.8 L171.24 387.8 L171.24 388.06 L173.68 388.06 L173.68 388.32 L176.12 388.32 L176.12 388.58 L178.56 388.58 L178.56 388.84 L181 388.84 L181 389.1 L182 390.1 L212.3 390.1 L212.3 390.1 L213.6 391.5 L243.5 391.5 L243.5 391.5" fill="none" stroke="#1f3a6e" stroke-width="1.5" stroke-linejoin="miter"/>
<line x1="52.3" y1="318.7" x2="52.3" y2="437.8" stroke="#111" stroke-width="1.35"/>
<line x1="51.7" y1="437.2" x2="246.5" y2="437.2" stroke="#111" stroke-width="1.35"/>
<line x1="48.8" y1="323.65" x2="52.3" y2="323.65" stroke="#231f20" stroke-width="1.0"/>
<text x="45.5" y="326.65" font-size="8.8" text-anchor="end" font-weight="normal" font-style="normal" fill="#231f20" >1.0</text>
<line x1="48.8" y1="345.32" x2="52.3" y2="345.32" stroke="#231f20" stroke-width="1.0"/>
<text x="45.5" y="348.32" font-size="8.8" text-anchor="end" font-weight="normal" font-style="normal" fill="#231f20" >0.8</text>
<line x1="48.8" y1="366.99" x2="52.3" y2="366.99" stroke="#231f20" stroke-width="1.0"/>
<text x="45.5" y="369.99" font-size="8.8" text-anchor="end" font-weight="normal" font-style="normal" fill="#231f20" >0.6</text>
<line x1="48.8" y1="388.66" x2="52.3" y2="388.66" stroke="#231f20" stroke-width="1.0"/>
<text x="45.5" y="391.66" font-size="8.8" text-anchor="end" font-weight="normal" font-style="normal" fill="#231f20" >0.4</text>
<line x1="48.8" y1="410.33" x2="52.3" y2="410.33" stroke="#231f20" stroke-width="1.0"/>
<text x="45.5" y="413.33" font-size="8.8" text-anchor="end" font-weight="normal" font-style="normal" fill="#231f20" >0.2</text>
<line x1="48.8" y1="432" x2="52.3" y2="432" stroke="#231f20" stroke-width="1.0"/>
<text x="45.5" y="435" font-size="8.8" text-anchor="end" font-weight="normal" font-style="normal" fill="#231f20" >0.0</text>
<line x1="59.5" y1="437.2" x2="59.5" y2="440.7" stroke="#231f20" stroke-width="1.0"/>
<text x="59.5" y="452.3" font-size="8.8" text-anchor="middle" font-weight="normal" font-style="normal" fill="#231f20" >0</text>
<line x1="96.3" y1="437.2" x2="96.3" y2="440.7" stroke="#231f20" stroke-width="1.0"/>
<text x="96.3" y="452.3" font-size="8.8" text-anchor="middle" font-weight="normal" font-style="normal" fill="#231f20" >1</text>
<line x1="133.1" y1="437.2" x2="133.1" y2="440.7" stroke="#231f20" stroke-width="1.0"/>
<text x="133.1" y="452.3" font-size="8.8" text-anchor="middle" font-weight="normal" font-style="normal" fill="#231f20" >2</text>
<line x1="169.9" y1="437.2" x2="169.9" y2="440.7" stroke="#231f20" stroke-width="1.0"/>
<text x="169.9" y="452.3" font-size="8.8" text-anchor="middle" font-weight="normal" font-style="normal" fill="#231f20" >3</text>
<line x1="206.7" y1="437.2" x2="206.7" y2="440.7" stroke="#231f20" stroke-width="1.0"/>
<text x="206.7" y="452.3" font-size="8.8" text-anchor="middle" font-weight="normal" font-style="normal" fill="#231f20" >4</text>
<line x1="243.5" y1="437.2" x2="243.5" y2="440.7" stroke="#231f20" stroke-width="1.0"/>
<text x="243.5" y="452.3" font-size="8.8" text-anchor="middle" font-weight="normal" font-style="normal" fill="#231f20" >5</text>
<text x="81" y="467.2" font-size="10.2" fill="#231f20" stroke="#231f20" stroke-width="0.3" textLength="14.9" lengthAdjust="spacingAndGlyphs">Time</text>
<text x="98.3" y="467.2" font-size="10.2" fill="#231f20" stroke="#231f20" stroke-width="0.3" textLength="16" lengthAdjust="spacingAndGlyphs">since</text>
<text x="116.6" y="467.2" font-size="10.2" fill="#231f20" stroke="#231f20" stroke-width="0.3" textLength="22.3" lengthAdjust="spacingAndGlyphs">second</text>
<text x="142.1" y="467.2" font-size="10.2" fill="#231f20" stroke="#231f20" stroke-width="0.3" textLength="12.3" lengthAdjust="spacingAndGlyphs">line</text>
<text x="156.8" y="467.2" font-size="10.2" fill="#231f20" stroke="#231f20" stroke-width="0.3" textLength="32.7" lengthAdjust="spacingAndGlyphs">treatment</text>
<text x="191.8" y="467.2" font-size="10.2" fill="#231f20" stroke="#231f20" stroke-width="0.3" textLength="22.9" lengthAdjust="spacingAndGlyphs">(years)</text>
<text x="0" y="0" font-size="10" fill="#231f20" stroke="#231f20" stroke-width="0.4" textLength="21.6" lengthAdjust="spacingAndGlyphs" transform="translate(26.4 408.9) rotate(-90)">Survival</text>
<text x="23.6" y="0" font-size="10" fill="#231f20" stroke="#231f20" stroke-width="0.4" textLength="39" lengthAdjust="spacingAndGlyphs" transform="translate(26.4 408.9) rotate(-90)">probability</text>
<line x1="217.25" y1="326.5" x2="227.75" y2="326.5" stroke="#1f3a6e" stroke-width="1.2"/>
<text x="231.1" y="329.1" font-size="8.8" text-anchor="start" font-weight="normal" font-style="normal" fill="#231f20" >CC</text>
<line x1="217.25" y1="337.5" x2="227.75" y2="337.5" stroke="#e38a27" stroke-width="1.2"/>
<text x="231.1" y="340.6" font-size="8.8" text-anchor="start" font-weight="normal" font-style="normal" fill="#231f20" >SA</text>
<text x="59.6" y="431.1" font-size="9" text-anchor="start" font-weight="normal" font-style="italic" fill="#333" >P</text>
<rect x="67.7" y="426.5" width="6.2" height="3.3" fill="#6a6a6a"/>
<text x="75.7" y="431.1" font-size="9.2" text-anchor="start" font-weight="normal" font-style="normal" fill="#333" >.036</text>
<text x="52" y="480.6" font-size="9.1" text-anchor="start" font-weight="normal" font-style="normal" fill="#231f20" >CC</text>
<text x="45.5" y="493.9" font-size="8.8" text-anchor="end" font-weight="normal" font-style="normal" fill="#231f20" >At risk</text>
<text x="59.5" y="493.9" font-size="8.8" text-anchor="middle" font-weight="normal" font-style="normal" fill="#231f20" >231</text>
<text x="96.3" y="493.9" font-size="8.8" text-anchor="middle" font-weight="normal" font-style="normal" fill="#231f20" >82</text>
<text x="133.1" y="493.9" font-size="8.8" text-anchor="middle" font-weight="normal" font-style="normal" fill="#231f20" >53</text>
<text x="169.9" y="493.9" font-size="8.8" text-anchor="middle" font-weight="normal" font-style="normal" fill="#231f20" >39</text>
<text x="206.7" y="493.9" font-size="8.8" text-anchor="middle" font-weight="normal" font-style="normal" fill="#231f20" >33</text>
<text x="243.5" y="493.9" font-size="8.8" text-anchor="middle" font-weight="normal" font-style="normal" fill="#231f20" >25</text>
<text x="45.5" y="507.15" font-size="8.8" text-anchor="end" font-weight="normal" font-style="normal" fill="#231f20" >Censored</text>
<text x="59.5" y="507.15" font-size="8.8" text-anchor="middle" font-weight="normal" font-style="normal" fill="#231f20" >0</text>
<text x="96.3" y="507.15" font-size="8.8" text-anchor="middle" font-weight="normal" font-style="normal" fill="#231f20" >52</text>
<text x="133.1" y="507.15" font-size="8.8" text-anchor="middle" font-weight="normal" font-style="normal" fill="#231f20" >68</text>
<text x="169.9" y="507.15" font-size="8.8" text-anchor="middle" font-weight="normal" font-style="normal" fill="#231f20" >79</text>
<text x="206.7" y="507.15" font-size="8.8" text-anchor="middle" font-weight="normal" font-style="normal" fill="#231f20" >83</text>
<text x="243.5" y="507.15" font-size="8.8" text-anchor="middle" font-weight="normal" font-style="normal" fill="#231f20" >90</text>
<text x="45.5" y="520.4" font-size="8.8" text-anchor="end" font-weight="normal" font-style="normal" fill="#231f20" >Events</text>
<text x="59.5" y="520.4" font-size="8.8" text-anchor="middle" font-weight="normal" font-style="normal" fill="#231f20" >0</text>
<text x="96.3" y="520.4" font-size="8.8" text-anchor="middle" font-weight="normal" font-style="normal" fill="#231f20" >97</text>
<text x="133.1" y="520.4" font-size="8.8" text-anchor="middle" font-weight="normal" font-style="normal" fill="#231f20" >110</text>
<text x="169.9" y="520.4" font-size="8.8" text-anchor="middle" font-weight="normal" font-style="normal" fill="#231f20" >113</text>
<text x="206.7" y="520.4" font-size="8.8" text-anchor="middle" font-weight="normal" font-style="normal" fill="#231f20" >115</text>
<text x="243.5" y="520.4" font-size="8.8" text-anchor="middle" font-weight="normal" font-style="normal" fill="#231f20" >116</text>
<text x="52" y="540.8" font-size="9.1" text-anchor="start" font-weight="normal" font-style="normal" fill="#231f20" >SA</text>
<text x="45.5" y="554.1" font-size="8.8" text-anchor="end" font-weight="normal" font-style="normal" fill="#231f20" >At risk</text>
<text x="59.5" y="554.1" font-size="8.8" text-anchor="middle" font-weight="normal" font-style="normal" fill="#231f20" >142</text>
<text x="96.3" y="554.1" font-size="8.8" text-anchor="middle" font-weight="normal" font-style="normal" fill="#231f20" >76</text>
<text x="133.1" y="554.1" font-size="8.8" text-anchor="middle" font-weight="normal" font-style="normal" fill="#231f20" >55</text>
<text x="169.9" y="554.1" font-size="8.8" text-anchor="middle" font-weight="normal" font-style="normal" fill="#231f20" >38</text>
<text x="206.7" y="554.1" font-size="8.8" text-anchor="middle" font-weight="normal" font-style="normal" fill="#231f20" >23</text>
<text x="243.5" y="554.1" font-size="8.8" text-anchor="middle" font-weight="normal" font-style="normal" fill="#231f20" >12</text>
<text x="45.5" y="567.35" font-size="8.8" text-anchor="end" font-weight="normal" font-style="normal" fill="#231f20" >Censored</text>
<text x="59.5" y="567.35" font-size="8.8" text-anchor="middle" font-weight="normal" font-style="normal" fill="#231f20" >0</text>
<text x="96.3" y="567.35" font-size="8.8" text-anchor="middle" font-weight="normal" font-style="normal" fill="#231f20" >23</text>
<text x="133.1" y="567.35" font-size="8.8" text-anchor="middle" font-weight="normal" font-style="normal" fill="#231f20" >33</text>
<text x="169.9" y="567.35" font-size="8.8" text-anchor="middle" font-weight="normal" font-style="normal" fill="#231f20" >47</text>
<text x="206.7" y="567.35" font-size="8.8" text-anchor="middle" font-weight="normal" font-style="normal" fill="#231f20" >60</text>
<text x="243.5" y="567.35" font-size="8.8" text-anchor="middle" font-weight="normal" font-style="normal" fill="#231f20" >69</text>
<text x="45.5" y="580.6" font-size="8.8" text-anchor="end" font-weight="normal" font-style="normal" fill="#231f20" >Events</text>
<text x="59.5" y="580.6" font-size="8.8" text-anchor="middle" font-weight="normal" font-style="normal" fill="#231f20" >0</text>
<text x="96.3" y="580.6" font-size="8.8" text-anchor="middle" font-weight="normal" font-style="normal" fill="#231f20" >43</text>
<text x="133.1" y="580.6" font-size="8.8" text-anchor="middle" font-weight="normal" font-style="normal" fill="#231f20" >54</text>
<text x="169.9" y="580.6" font-size="8.8" text-anchor="middle" font-weight="normal" font-style="normal" fill="#231f20" >57</text>
<text x="206.7" y="580.6" font-size="8.8" text-anchor="middle" font-weight="normal" font-style="normal" fill="#231f20" >59</text>
<text x="243.5" y="580.6" font-size="8.8" text-anchor="middle" font-weight="normal" font-style="normal" fill="#231f20" >61</text>
<text x="269" y="310.2" font-size="12.4" text-anchor="start" font-weight="bold" font-style="normal" fill="#000" stroke="#000" stroke-width="0.45">D</text>
<path d="M320.8 322.8 L322.8 322.8 L322.8 322.8 L324.8 322.8 L324.8 322.8 L326.8 322.8 L326.8 322.8 L328.8 322.8 L328.8 322.8 L330.8 322.8 L330.8 322.8 L332.8 322.8 L332.8 322.8 L334.8 322.8 L334.8 322.8 L336.8 322.8 L336.8 322.8 L338.8 322.8 L338.8 322.8 L340.8 322.8 L340.8 322.8 L342.8 322.8 L342.8 322.8 L343.5 322.8 L343.5 322.8 L344 322.8 L344 322.8 L344.8 322.8 L344.8 322.8 L346.8 322.8 L346.8 322.8 L348.8 322.8 L348.8 322.8 L349.5 322.8 L349.5 322.8 L350 322.8 L350 322.8 L350.8 322.8 L350.8 322.8 L352.8 322.8 L352.8 322.8 L354.8 322.8 L354.8 322.8 L356.8 322.8 L356.8 322.8 L358.8 322.8 L358.8 322.8 L359 322.8 L359 322.8 L360 328.73 L360.8 328.73 L360.8 328.68 L362.8 328.68 L362.8 328.54 L364.8 328.54 L364.8 328.39 L366.8 328.39 L366.8 328.25 L368.8 328.25 L368.8 328.11 L370.8 328.11 L370.8 327.97 L372.8 327.97 L372.8 327.83 L374.8 327.83 L374.8 327.69 L376.8 327.69 L376.8 327.55 L378.8 327.55 L378.8 327.4 L380.8 327.4 L380.8 327.26 L382.8 327.26 L382.8 327.12 L383.8 327.12 L383.8 327.05 L384.4 327.05 L384.4 329.9 L384.8 329.9 L384.8 329.87 L386.8 329.87 L386.8 329.7 L388.8 329.7 L388.8 329.53 L390.8 329.53 L390.8 329.37 L392.8 329.37 L392.8 329.2 L394.8 329.2 L394.8 329.16 L396.8 329.16 L396.8 329.13 L397.1 329.13 L397.1 329.12 L397.7 329.12 L397.7 331.91 L398.8 331.91 L398.8 331.89 L400.8 331.89 L400.8 331.85 L402.8 331.85 L402.8 331.81 L404.8 331.81 L404.8 331.78 L406.8 331.78 L406.8 331.74 L408.8 331.74 L408.8 331.7 L409.2 331.7 L409.2 331.7 L409.8 334.59 L410.8 334.59 L410.8 334.64 L412.8 334.64 L412.8 334.75 L414.8 334.75 L414.8 334.86 L416.8 334.86 L416.8 334.96 L418.8 334.96 L418.8 335.07 L420.8 335.07 L420.8 335.18 L422.3 338.25 L422.8 338.25 L422.8 338.32 L424.8 338.32 L424.8 338.58 L426.8 338.58 L426.8 338.84 L427 338.84 L427 338.87 L427.7 340.35 L428.8 340.35 L428.8 340.33 L430.8 340.33 L430.8 340.3 L432.8 340.3 L432.8 340.26 L434.8 340.26 L434.8 340.22 L436.8 340.22 L436.8 340.19 L438.8 340.19 L438.8 340.15 L440.8 340.15 L440.8 340.11 L442.8 340.11 L442.8 340.07 L444.8 340.07 L444.8 340.04 L446.8 340.04 L446.8 340 L447.7 340 L447.7 339.98 L448.5 344.37 L448.8 344.37 L448.8 344.36 L450.8 344.36 L450.8 344.33 L452.3 344.33 L452.3 344.3 L452.8 344.3 L452.8 347.07 L453 347.07 L453 348.19 L454.8 348.19 L454.8 348.15 L456.8 348.15 L456.8 348.11 L458.8 348.11 L458.8 348.08 L460.8 348.08 L460.8 348.04 L462.8 348.04 L462.8 348 L464.8 348 L464.8 347.97 L466.8 347.97 L466.8 347.93 L468.8 347.93 L468.8 347.89 L470.8 347.89 L470.8 347.86 L472.8 347.86 L472.8 347.82 L474.8 347.82 L474.8 347.78 L476.8 347.78 L476.8 347.74 L478.8 347.74 L478.8 347.71 L480.8 347.71 L480.8 347.67 L482.8 347.67 L482.8 347.63 L484.8 347.63 L484.8 347.6 L486.8 347.6 L486.8 347.56 L488.8 347.56 L488.8 347.52 L490.8 347.52 L490.8 347.49 L492.8 347.49 L492.8 347.45 L494.8 347.45 L494.8 347.41 L496.8 347.41 L496.8 347.37 L498.8 347.37 L498.8 347.34 L500.8 347.34 L500.8 347.3 L502.8 347.3 L502.8 347.3 L504.8 347.3 L504.8 347.3 L506.8 347.3 L506.8 347.3 L506.9 347.3 L506.9 347.3 L506.9 379.3 L506.9 379.3 L506.8 379.3 L506.8 379.3 L504.8 379.3 L504.8 379.3 L502.8 379.3 L502.8 379.3 L500.8 379.3 L500.8 379.24 L498.8 379.24 L498.8 379.19 L496.8 379.19 L496.8 379.13 L494.8 379.13 L494.8 379.08 L492.8 379.08 L492.8 379.02 L490.8 379.02 L490.8 378.97 L488.8 378.97 L488.8 378.91 L486.8 378.91 L486.8 378.86 L484.8 378.86 L484.8 378.8 L482.8 378.8 L482.8 378.74 L480.8 378.74 L480.8 378.69 L478.8 378.69 L478.8 378.63 L476.8 378.63 L476.8 378.58 L474.8 378.58 L474.8 378.52 L472.8 378.52 L472.8 378.47 L470.8 378.47 L470.8 378.41 L468.8 378.41 L468.8 378.36 L466.8 378.36 L466.8 378.3 L464.8 378.3 L464.8 378.24 L462.8 378.24 L462.8 378.19 L460.8 378.19 L460.8 378.13 L458.8 378.13 L458.8 378.08 L456.8 378.08 L456.8 378.02 L454.8 378.02 L454.8 377.97 L453 377.97 L453 376.85 L452.8 376.85 L452.8 374.05 L452.3 374.05 L452.3 374.01 L450.8 374.01 L450.8 373.96 L448.8 373.96 L448.8 373.95 L448.5 373.95 L447.7 369.52 L447.7 369.5 L446.8 369.5 L446.8 369.44 L444.8 369.44 L444.8 369.39 L442.8 369.39 L442.8 369.33 L440.8 369.33 L440.8 369.28 L438.8 369.28 L438.8 369.22 L436.8 369.22 L436.8 369.17 L434.8 369.17 L434.8 369.11 L432.8 369.11 L432.8 369.06 L430.8 369.06 L430.8 369 L428.8 369 L428.8 368.97 L427.7 368.97 L427 367.45 L427 367.41 L426.8 367.41 L426.8 367.06 L424.8 367.06 L424.8 366.71 L422.8 366.71 L422.8 366.62 L422.3 366.62 L420.8 363.48 L420.8 363.28 L418.8 363.28 L418.8 363.08 L416.8 363.08 L416.8 362.87 L414.8 362.87 L414.8 362.67 L412.8 362.67 L412.8 362.47 L410.8 362.47 L410.8 362.37 L409.8 362.37 L409.2 359.46 L409.2 359.44 L408.8 359.44 L408.8 359.39 L406.8 359.39 L406.8 359.33 L404.8 359.33 L404.8 359.28 L402.8 359.28 L402.8 359.22 L400.8 359.22 L400.8 359.17 L398.8 359.17 L398.8 359.14 L397.7 359.14 L397.7 356.32 L397.1 356.32 L397.1 356.31 L396.8 356.31 L396.8 356.26 L394.8 356.26 L394.8 356.2 L392.8 356.2 L392.8 356.03 L390.8 356.03 L390.8 355.87 L388.8 355.87 L388.8 355.7 L386.8 355.7 L386.8 355.53 L384.8 355.53 L384.8 355.5 L384.4 355.5 L384.4 352.55 L383.8 352.55 L383.8 352.45 L382.8 352.45 L382.8 352.26 L380.8 352.26 L380.8 352.07 L378.8 352.07 L378.8 351.88 L376.8 351.88 L376.8 351.69 L374.8 351.69 L374.8 351.49 L372.8 351.49 L372.8 351.3 L370.8 351.3 L370.8 351.11 L368.8 351.11 L368.8 350.92 L366.8 350.92 L366.8 350.73 L364.8 350.73 L364.8 350.54 L362.8 350.54 L362.8 350.34 L360.8 350.34 L360.8 350.27 L360 350.27 L359 339.68 L359 339.67 L358.8 339.67 L358.8 339.5 L356.8 339.5 L356.8 339.02 L354.8 339.02 L354.8 338.55 L352.8 338.55 L352.8 338.07 L350.8 338.07 L350.8 337.88 L350 337.88 L350 335.26 L349.5 335.26 L349.5 335.1 L348.8 335.1 L348.8 334.62 L346.8 334.62 L346.8 334.14 L344.8 334.14 L344.8 333.95 L344 333.95 L344 331.43 L343.5 331.43 L343.5 331.27 L342.8 331.27 L342.8 330.79 L340.8 330.79 L340.8 330.31 L338.8 330.31 L338.8 329.84 L336.8 329.84 L336.8 329.36 L334.8 329.36 L334.8 328.89 L332.8 328.89 L332.8 328.16 L330.8 328.16 L328.8 327.04 L326.8 325.93 L324.8 324.82 L322.8 323.71 L320.8 322.6 Z" fill="#e8584e" fill-opacity="0.38" stroke="none"/>
<path d="M320.8 322.8 L322.8 322.8 L322.8 322.8 L324.8 322.8 L324.8 322.8 L326.8 322.8 L326.8 322.8 L328.8 322.8 L328.8 322.8 L329 322.8 L329 322.8 L330.8 322.8 L330.8 322.8 L331 322.8 L331 322.8 L332.8 322.8 L332.8 322.8 L333 322.8 L333 322.8 L334.8 322.8 L334.8 322.8 L336.8 322.8 L336.8 322.8 L337 322.8 L337 322.8 L338.8 322.8 L338.8 323.34 L340.8 324.44 L342.8 325.53 L343 325.53 L343 325.64 L344.8 325.64 L344.8 326.33 L346 326.33 L346 326.79 L346.8 326.79 L346.8 326.79 L348.8 326.79 L348.8 326.8 L350 326.8 L350 326.81 L350.8 326.81 L350.8 327.03 L352.8 327.03 L352.8 327.6 L354.8 327.6 L354.8 328.16 L355 328.16 L355 328.21 L356.8 328.21 L356.8 328.53 L358.8 328.53 L358.8 329.06 L360.8 329.06 L360.8 329.59 L362.8 329.59 L362.8 329.84 L364.8 329.84 L364.8 330.09 L366.8 330.09 L366.8 330.34 L368.8 330.34 L368.8 330.59 L370.8 330.59 L370.8 330.84 L372.8 330.84 L372.8 331.1 L374.8 331.1 L374.8 331.35 L375.8 331.35 L375.8 331.47 L376.8 333.44 L378.1 336.01 L378.8 336.01 L378.8 336.16 L380.8 336.16 L380.8 336.61 L382.8 336.61 L382.8 337.05 L384.8 337.05 L384.8 337.5 L386.8 337.5 L386.8 337.94 L387.3 337.94 L387.3 338.05 L388.8 338.05 L388.8 338.39 L390.8 338.39 L390.8 338.84 L392.8 338.84 L392.8 339.29 L394.8 339.29 L394.8 339.77 L396.8 339.77 L396.8 340.26 L398.8 340.26 L398.8 340.74 L400.8 341.7 L402.8 342.66 L403.5 342.66 L403.5 343 L404.8 343 L404.8 343.48 L406.8 343.48 L406.8 344.23 L408.8 344.23 L408.8 344.97 L410.8 344.97 L410.8 345.71 L412.7 345.71 L412.7 346.42 L412.8 346.42 L412.8 346.89 L413.8 351.61 L414.8 351.61 L414.8 351.91 L416.8 351.91 L416.8 352.52 L418.8 352.52 L418.8 353.13 L420.8 353.13 L420.8 353.74 L422.8 353.74 L422.8 354.55 L424.8 354.55 L424.8 355.37 L426.8 355.37 L426.8 356.18 L428.5 356.18 L428.5 356.87 L428.8 356.87 L428.8 356.92 L430.8 356.92 L430.8 357.22 L432.8 357.22 L432.8 357.53 L434.8 357.53 L434.8 357.84 L436.8 357.84 L436.8 358.15 L437.7 358.15 L437.7 358.28 L438.8 358.28 L438.8 358.72 L440.8 358.72 L440.8 359.5 L442.8 359.5 L442.8 360.29 L444.8 360.29 L444.8 361.08 L445.4 361.08 L445.4 361.31 L446.8 362.21 L448.8 363.5 L450 364.27 L450.8 364.27 L450.8 364.34 L452.8 364.34 L452.8 364.52 L454.8 364.52 L454.8 364.71 L456.8 364.71 L456.8 364.89 L458.8 364.89 L458.8 365.07 L460.8 365.07 L460.8 365.25 L462.8 365.25 L462.8 365.43 L464.8 365.43 L464.8 365.61 L466 365.61 L466 365.72 L466.8 365.72 L466.8 365.89 L468.8 365.89 L468.8 366.32 L470.8 366.32 L470.8 366.75 L472.8 366.75 L472.8 367.18 L474.8 367.18 L474.8 367.6 L476.8 367.6 L476.8 368.03 L478.8 368.03 L478.8 368.46 L479 368.46 L479 368.5 L480.4 370.69 L480.8 370.69 L480.8 370.71 L482.8 370.71 L482.8 370.8 L484.8 370.8 L484.8 370.89 L486.8 370.89 L486.8 370.97 L488.8 370.97 L488.8 371.06 L490.8 371.06 L490.8 371.15 L492.8 371.15 L492.8 371.24 L493.4 371.24 L493.4 371.27 L494.8 371.27 L494.8 371.33 L496.8 371.33 L496.8 371.41 L498.8 371.41 L498.8 371.5 L500.8 371.5 L500.8 371.58 L502.8 371.58 L502.8 371.69 L504.8 371.69 L504.8 371.79 L506.8 371.79 L506.8 371.89 L506.9 371.89 L506.9 371.9 L506.9 393.9 L506.9 393.89 L506.8 393.89 L506.8 393.79 L504.8 393.79 L504.8 393.69 L502.8 393.69 L502.8 393.58 L500.8 393.58 L500.8 393.44 L498.8 393.44 L498.8 393.3 L496.8 393.3 L496.8 393.16 L494.8 393.16 L494.8 393.06 L493.4 393.06 L493.4 393.02 L492.8 393.02 L492.8 392.87 L490.8 392.87 L490.8 392.73 L488.8 392.73 L488.8 392.59 L486.8 392.59 L486.8 392.44 L484.8 392.44 L484.8 392.3 L482.8 392.3 L482.8 392.15 L480.8 392.15 L480.8 392.12 L480.4 392.12 L479 389.9 L479 389.85 L478.8 389.85 L478.8 389.36 L476.8 389.36 L476.8 388.88 L474.8 388.88 L474.8 388.4 L472.8 388.4 L472.8 387.92 L470.8 387.92 L470.8 387.43 L468.8 387.43 L468.8 386.95 L466.8 386.95 L466.8 386.76 L466 386.76 L466 386.61 L464.8 386.61 L464.8 386.38 L462.8 386.38 L462.8 386.14 L460.8 386.14 L460.8 385.9 L458.8 385.9 L458.8 385.67 L456.8 385.67 L456.8 385.43 L454.8 385.43 L454.8 385.19 L452.8 385.19 L452.8 384.95 L450.8 384.95 L450.8 384.86 L450 384.86 L448.8 384.05 L446.8 382.71 L445.4 381.77 L445.4 381.52 L444.8 381.52 L444.8 380.68 L442.8 380.68 L442.8 379.84 L440.8 379.84 L440.8 378.99 L438.8 378.99 L438.8 378.53 L437.7 378.53 L437.7 378.37 L436.8 378.37 L436.8 378 L434.8 378 L434.8 377.64 L432.8 377.64 L432.8 377.28 L430.8 377.28 L430.8 376.92 L428.8 376.92 L428.8 376.86 L428.5 376.86 L428.5 376.12 L426.8 376.12 L426.8 375.25 L424.8 375.25 L424.8 374.39 L422.8 374.39 L422.8 373.52 L420.8 373.52 L420.8 372.85 L418.8 372.85 L418.8 372.19 L416.8 372.19 L416.8 371.52 L414.8 371.52 L414.8 371.19 L413.8 371.19 L412.8 366.44 L412.8 365.97 L412.7 365.97 L412.7 365.21 L410.8 365.21 L410.8 364.41 L408.8 364.41 L408.8 363.61 L406.8 363.61 L406.8 362.82 L404.8 362.82 L404.8 362.3 L403.5 362.3 L403.5 361.94 L402.8 361.94 L400.8 360.93 L398.8 359.91 L398.8 359.37 L396.8 359.37 L396.8 358.83 L394.8 358.83 L394.8 358.29 L392.8 358.29 L392.8 357.73 L390.8 357.73 L390.8 357.17 L388.8 357.17 L388.8 356.75 L387.3 356.75 L387.3 356.61 L386.8 356.61 L386.8 356.05 L384.8 356.05 L384.8 355.5 L382.8 355.5 L382.8 354.94 L380.8 354.94 L380.8 354.39 L378.8 354.39 L378.8 354.19 L378.1 354.19 L376.8 351.56 L375.8 349.53 L375.8 349.35 L374.8 349.35 L374.8 348.98 L372.8 348.98 L372.8 348.62 L370.8 348.62 L370.8 348.26 L368.8 348.26 L368.8 347.9 L366.8 347.9 L366.8 347.54 L364.8 347.54 L364.8 347.17 L362.8 347.17 L362.8 346.81 L360.8 346.81 L360.8 346.17 L358.8 346.17 L358.8 345.53 L356.8 345.53 L355 344.71 L355 344.6 L354.8 344.6 L352.8 343.49 L350.8 342.37 L350.8 341.92 L350 341.92 L350 341.58 L348.8 341.58 L348.8 341.01 L346.8 341.01 L346.8 340.79 L346 340.79 L344.8 340 L343 338.81 L343 338.64 L342.8 338.64 L340.8 336.99 L338.8 335.34 L337 333.86 L337 333.78 L336.8 333.78 L336.8 332.96 L334.8 332.96 L334.8 332.22 L333 332.22 L333 331.99 L332.8 331.99 L331 329.72 L331 329.48 L330.8 329.48 L329 327.3 L329 327.18 L328.8 327.18 L326.8 326.04 L324.8 324.89 L322.8 323.75 L320.8 322.6 Z" fill="#f7a545" fill-opacity="0.32" stroke="none"/>
<path d="M320.8 322.8 L322.8 322.8 L322.8 322.8 L324.8 322.8 L324.8 322.8 L326.8 322.8 L326.8 322.8 L328.8 322.8 L328.8 322.8 L330.8 322.8 L330.8 322.8 L332.8 322.8 L332.8 322.8 L333 322.8 L333 322.8 L334.8 322.8 L334.8 322.8 L335 322.8 L335 322.8 L336.8 322.8 L336.8 323.39 L337 323.39 L337 323.57 L338.8 325.83 L340 327.33 L340.8 328.47 L342 330.17 L342.8 330.17 L342.8 330.71 L344.8 332.05 L346 332.86 L346.8 334.39 L348 336.7 L348.8 337.43 L350 338.54 L350.8 342.48 L351 342.48 L351 343.46 L352.8 343.46 L352.8 344.22 L354.8 344.22 L354.8 345.06 L355 345.06 L355 345.14 L356.8 345.14 L356.8 345.87 L358.8 346.78 L360.8 347.69 L362.8 347.69 L362.8 347.74 L364.8 347.74 L364.8 347.79 L366.8 347.79 L366.8 347.84 L368.8 347.84 L368.8 347.88 L370.8 347.88 L370.8 347.93 L372.3 347.93 L372.3 347.97 L372.8 347.97 L372.8 348.03 L374.8 348.03 L374.8 348.29 L376.8 348.29 L376.8 348.55 L378.8 348.55 L378.8 348.81 L380.8 348.81 L380.8 349.06 L382.8 349.06 L382.8 349.32 L383.8 349.32 L383.8 349.45 L384.8 349.45 L384.8 349.77 L386.8 349.77 L386.8 350.4 L388.8 350.4 L388.8 351.04 L390.8 351.04 L390.8 351.68 L391.9 351.68 L391.9 352.02 L392.8 352.02 L392.8 352 L394.8 352 L394.8 351.98 L396.8 351.98 L396.8 351.96 L398.8 351.96 L398.8 351.94 L400.8 351.94 L400.8 351.93 L402.8 351.93 L402.8 351.91 L404.8 351.91 L404.8 351.89 L406.8 351.89 L406.8 351.87 L408.8 351.87 L408.8 351.85 L410.8 351.85 L410.8 351.83 L412.7 351.83 L412.7 351.82 L412.8 351.82 L412.8 351.85 L414.8 351.85 L414.8 352.6 L416.8 352.6 L416.8 353.35 L418.8 353.35 L418.8 354.11 L419.2 354.11 L419.2 354.26 L420.8 354.26 L420.8 354.64 L422.8 354.64 L422.8 355.11 L424.8 355.11 L424.8 355.59 L426.8 355.59 L426.8 356.06 L428.5 356.06 L428.5 356.47 L428.8 356.47 L428.8 356.62 L430.8 357.65 L432.8 358.69 L434.6 359.61 L434.8 359.61 L434.8 359.67 L436.8 359.67 L436.8 360.2 L438.8 360.2 L438.8 360.74 L440 360.74 L440 361.06 L440.8 361.06 L440.8 361.1 L442.8 361.1 L442.8 361.2 L444.8 361.2 L444.8 361.3 L446.8 361.3 L446.8 361.4 L448.8 361.4 L448.8 361.5 L450.8 361.5 L450.8 361.59 L452.8 361.59 L452.8 361.69 L454.8 361.69 L454.8 361.79 L456.8 361.79 L456.8 361.89 L458.8 361.89 L458.8 361.99 L460.2 363.38 L460.8 363.38 L460.8 363.49 L462.8 363.49 L462.8 363.89 L464.8 363.89 L464.8 364.29 L466.8 364.29 L466.8 364.68 L468.8 364.68 L468.8 365.08 L468.9 365.08 L468.9 365.1 L470.8 365.1 L470.8 365.23 L472.8 365.23 L472.8 365.36 L474.8 365.36 L474.8 365.5 L476.8 365.5 L476.8 365.64 L478.8 365.64 L478.8 365.78 L480.4 365.78 L480.4 365.89 L480.8 365.89 L480.8 366.17 L481.8 366.88 L482.8 366.88 L482.8 366.87 L484.8 366.87 L484.8 366.85 L486.8 366.85 L486.8 366.83 L488.8 366.83 L488.8 366.81 L490.8 366.81 L490.8 366.79 L492.8 366.79 L492.8 366.77 L494.8 366.77 L494.8 366.76 L496.8 366.76 L496.8 366.74 L498.8 366.74 L498.8 366.72 L500.8 366.72 L500.8 366.7 L502.8 366.7 L502.8 366.7 L504.8 366.7 L504.8 366.7 L506.8 366.7 L506.8 366.7 L506.9 366.7 L506.9 366.7 L506.9 385.7 L506.9 385.7 L506.8 385.7 L506.8 385.7 L504.8 385.7 L504.8 385.7 L502.8 385.7 L502.8 385.7 L500.8 385.7 L500.8 385.68 L498.8 385.68 L498.8 385.66 L496.8 385.66 L496.8 385.64 L494.8 385.64 L494.8 385.63 L492.8 385.63 L492.8 385.61 L490.8 385.61 L490.8 385.59 L488.8 385.59 L488.8 385.57 L486.8 385.57 L486.8 385.55 L484.8 385.55 L484.8 385.53 L482.8 385.53 L482.8 385.52 L481.8 385.52 L480.8 384.8 L480.8 384.51 L480.4 384.51 L480.4 384.37 L478.8 384.37 L478.8 384.2 L476.8 384.2 L476.8 384.02 L474.8 384.02 L474.8 383.85 L472.8 383.85 L472.8 383.67 L470.8 383.67 L470.8 383.5 L468.9 383.5 L468.9 383.48 L468.8 383.48 L468.8 383.05 L466.8 383.05 L466.8 382.62 L464.8 382.62 L464.8 382.19 L462.8 382.19 L462.8 381.75 L460.8 381.75 L460.8 381.62 L460.2 381.62 L458.8 380.21 L458.8 380.08 L456.8 380.08 L456.8 379.94 L454.8 379.94 L454.8 379.8 L452.8 379.8 L452.8 379.67 L450.8 379.67 L450.8 379.53 L448.8 379.53 L448.8 379.4 L446.8 379.4 L446.8 379.26 L444.8 379.26 L444.8 379.13 L442.8 379.13 L442.8 378.99 L440.8 378.99 L440.8 378.94 L440 378.94 L440 378.59 L438.8 378.59 L438.8 378.02 L436.8 378.02 L436.8 377.44 L434.8 377.44 L434.8 377.39 L434.6 377.39 L432.8 376.43 L430.8 375.36 L428.8 374.29 L428.8 374.13 L428.5 374.13 L428.5 373.69 L426.8 373.69 L426.8 373.18 L424.8 373.18 L424.8 372.67 L422.8 372.67 L422.8 372.15 L420.8 372.15 L420.8 371.74 L419.2 371.74 L419.2 371.59 L418.8 371.59 L418.8 370.8 L416.8 370.8 L416.8 370.01 L414.8 370.01 L414.8 369.22 L412.8 369.22 L412.8 369.18 L412.7 369.18 L412.7 369.17 L410.8 369.17 L410.8 369.15 L408.8 369.15 L408.8 369.13 L406.8 369.13 L406.8 369.11 L404.8 369.11 L404.8 369.09 L402.8 369.09 L402.8 369.07 L400.8 369.07 L400.8 369.06 L398.8 369.06 L398.8 369.04 L396.8 369.04 L396.8 369.02 L394.8 369.02 L394.8 369 L392.8 369 L392.8 368.98 L391.9 368.98 L391.9 368.56 L390.8 368.56 L390.8 367.82 L388.8 367.82 L388.8 367.07 L386.8 367.07 L386.8 366.32 L384.8 366.32 L384.8 365.95 L383.8 365.95 L383.8 365.77 L382.8 365.77 L382.8 365.4 L380.8 365.4 L380.8 365.03 L378.8 365.03 L378.8 364.66 L376.8 364.66 L376.8 364.29 L374.8 364.29 L374.8 363.92 L372.8 363.92 L372.8 363.83 L372.3 363.83 L372.3 363.71 L370.8 363.71 L370.8 363.55 L368.8 363.55 L368.8 363.39 L366.8 363.39 L366.8 363.23 L364.8 363.23 L364.8 363.07 L362.8 363.07 L362.8 362.91 L360.8 362.91 L358.8 361.89 L356.8 360.87 L355 359.79 L355 359.66 L354.8 359.66 L352.8 358.42 L351 357.31 L351 356.29 L350.8 356.29 L350 352.19 L348.8 350.85 L348 349.95 L346.8 347.41 L346 345.71 L344.8 344.67 L342.8 342.93 L342 342.24 L340.8 340.3 L340 339 L338.8 337.26 L337 334.64 L337 334.42 L336.8 334.42 L335 332.4 L335 332.18 L334.8 332.18 L333 330.17 L333 330.12 L332.8 330.12 L332.8 329.3 L330.8 329.3 L328.8 327.96 L326.8 326.62 L324.8 325.28 L322.8 323.94 L320.8 322.6 Z" fill="#66bb55" fill-opacity="0.25" stroke="none"/>
<path d="M320.8 323.2 L322.8 323.2 L322.8 322.85 L324.8 322.85 L324.8 322.8 L326.8 322.8 L326.8 322.8 L327 322.8 L327 322.8 L328.8 324 L329 324 L329 324.2 L330.8 326.07 L331 326.07 L331 326.28 L332.8 326.28 L332.8 327.06 L334 327.71 L334.8 328.95 L336.8 332.05 L337 332.05 L337 332.36 L338.8 333.34 L340 334 L340.8 334.7 L342.8 336.47 L343 336.47 L343 336.64 L344.8 340.03 L345 340.03 L345 340.4 L346.8 340.4 L346.8 340.37 L348.8 340.37 L348.8 340.33 L350 340.33 L350 340.31 L350.8 340.31 L350.8 340.61 L352.8 340.61 L352.8 341.38 L354.8 341.38 L354.8 342.14 L355 342.14 L355 342.21 L356.8 343.08 L358.8 344.28 L360 345 L360.8 345.6 L362.8 347.1 L364 348 L364.8 349.2 L366 351 L366.8 351.6 L368.8 353.1 L370 354 L370.8 354 L370.8 354.39 L372.8 355.37 L374.8 356.35 L376.8 357.33 L378.8 358.3 L379.2 358.3 L379.2 358.5 L380.8 359.47 L382.8 360.67 L384.8 361.88 L385 361.88 L385 362 L386.8 362.9 L388.8 363.9 L389.6 363.9 L389.6 364.3 L390.8 364.3 L390.8 364.55 L392.8 364.55 L392.8 364.96 L394.8 364.96 L394.8 365.36 L395.4 365.36 L395.4 365.48 L396.8 365.48 L396.8 365.86 L398.8 365.86 L398.8 366.41 L400.8 366.41 L400.8 366.96 L402.8 366.96 L402.8 367.51 L403.5 367.51 L403.5 367.7 L404.8 367.7 L404.8 368.08 L406.8 368.08 L406.8 368.65 L408.8 368.65 L408.8 369.23 L409.2 369.23 L409.2 369.35 L410.8 369.35 L410.8 369.84 L412.8 369.84 L412.8 370.45 L414.6 370.45 L414.6 371 L414.8 371 L414.8 371 L416.8 371 L416.8 371.04 L418.8 371.04 L418.8 371.08 L420.8 371.08 L420.8 371.12 L422.8 371.12 L422.8 371.16 L424.8 371.16 L424.8 371.21 L426.8 371.21 L426.8 371.25 L428.8 371.25 L428.8 371.29 L430.8 371.29 L430.8 371.33 L431.5 371.33 L431.5 371.34 L432.8 371.34 L432.8 371.3 L434.8 371.3 L434.8 371.23 L436.8 371.23 L436.8 371.17 L438.8 371.17 L438.8 371.1 L440 371.1 L440 371.06 L440.8 371.06 L440.8 371.29 L442.8 371.29 L442.8 371.86 L444.8 371.86 L444.8 372.43 L445.8 372.43 L445.8 372.71 L446.8 372.71 L446.8 372.89 L448.8 372.89 L448.8 373.26 L450.8 373.26 L450.8 373.64 L452.8 373.64 L452.8 374.01 L454.8 374.01 L454.8 374.38 L456.8 374.38 L456.8 374.75 L458.8 374.75 L458.8 375.12 L460.2 375.12 L460.2 375.38 L460.8 375.38 L460.8 375.38 L462.8 375.38 L462.8 375.41 L464.8 375.41 L464.8 375.43 L466.8 375.43 L466.8 375.46 L468.8 375.46 L468.8 375.48 L470.8 375.48 L470.8 375.5 L472.8 375.5 L472.8 375.53 L474.8 375.53 L474.8 375.55 L476.8 375.55 L476.8 375.58 L478.8 375.58 L478.8 375.6 L480.8 375.6 L480.8 375.62 L482.8 375.62 L482.8 375.65 L484.8 375.65 L484.8 375.67 L486.8 375.67 L486.8 375.7 L488.8 375.7 L488.8 375.72 L490.8 375.72 L490.8 375.75 L492.8 375.75 L492.8 375.77 L494.8 375.77 L494.8 375.79 L496.8 375.79 L496.8 375.82 L497.7 375.82 L497.7 375.83 L498.8 377.43 L499.2 377.43 L499.2 378.01 L500.8 378.01 L500.8 378.29 L502.8 378.29 L502.8 378.65 L504.8 378.65 L504.8 379.02 L506.8 379.02 L506.8 379.38 L506.9 379.38 L506.9 379.4 L506.9 398.4 L506.9 398.38 L506.8 398.38 L506.8 398.02 L504.8 398.02 L504.8 397.65 L502.8 397.65 L502.8 397.29 L500.8 397.29 L500.8 397 L499.2 397 L499.2 396.41 L498.8 396.41 L497.7 394.8 L497.7 394.78 L496.8 394.78 L496.8 394.74 L494.8 394.74 L494.8 394.7 L492.8 394.7 L492.8 394.65 L490.8 394.65 L490.8 394.61 L488.8 394.61 L488.8 394.57 L486.8 394.57 L486.8 394.52 L484.8 394.52 L484.8 394.48 L482.8 394.48 L482.8 394.44 L480.8 394.44 L480.8 394.4 L478.8 394.4 L478.8 394.35 L476.8 394.35 L476.8 394.31 L474.8 394.31 L474.8 394.27 L472.8 394.27 L472.8 394.23 L470.8 394.23 L470.8 394.18 L468.8 394.18 L468.8 394.14 L466.8 394.14 L466.8 394.1 L464.8 394.1 L464.8 394.06 L462.8 394.06 L462.8 394.01 L460.8 394.01 L460.8 394 L460.2 394 L460.2 393.73 L458.8 393.73 L458.8 393.34 L456.8 393.34 L456.8 392.95 L454.8 392.95 L454.8 392.56 L452.8 392.56 L452.8 392.17 L450.8 392.17 L450.8 391.78 L448.8 391.78 L448.8 391.39 L446.8 391.39 L446.8 391.2 L445.8 391.2 L445.8 390.91 L444.8 390.91 L444.8 390.32 L442.8 390.32 L442.8 389.73 L440.8 389.73 L440.8 389.5 L440 389.5 L440 389.53 L438.8 389.53 L438.8 389.58 L436.8 389.58 L436.8 389.62 L434.8 389.62 L434.8 389.67 L432.8 389.67 L432.8 389.7 L431.5 389.7 L431.5 389.68 L430.8 389.68 L430.8 389.62 L428.8 389.62 L428.8 389.56 L426.8 389.56 L426.8 389.5 L424.8 389.5 L424.8 389.44 L422.8 389.44 L422.8 389.38 L420.8 389.38 L420.8 389.32 L418.8 389.32 L418.8 389.27 L416.8 389.27 L416.8 389.21 L414.8 389.21 L414.8 389.2 L414.6 389.2 L414.6 388.63 L412.8 388.63 L412.8 388 L410.8 388 L410.8 387.5 L409.2 387.5 L409.2 387.38 L408.8 387.38 L408.8 386.78 L406.8 386.78 L406.8 386.19 L404.8 386.19 L404.8 385.8 L403.5 385.8 L403.5 385.6 L402.8 385.6 L402.8 385.03 L400.8 385.03 L400.8 384.47 L398.8 384.47 L398.8 383.9 L396.8 383.9 L396.8 383.5 L395.4 383.5 L395.4 383.38 L394.8 383.38 L394.8 382.96 L392.8 382.96 L392.8 382.69 L390.8 382.69 L390.8 382.52 L389.6 382.52 L389.6 382.18 L388.8 382.18 L388.8 381.32 L386.8 381.32 L386.8 380.54 L385 380.54 L385 380.43 L384.8 380.43 L382.8 379.37 L380.8 378.3 L379.2 377.44 L379.2 377.28 L378.8 377.28 L378.8 376.47 L376.8 376.47 L376.8 375.68 L374.8 375.68 L374.8 374.89 L372.8 374.89 L372.8 374.1 L370.8 374.1 L370.8 373.78 L370 373.78 L368.8 372.99 L366.8 371.67 L366.8 371.15 L366 371.15 L364.8 369.46 L364 368.33 L362.8 367.54 L360.8 366.23 L360.8 365.7 L360 365.7 L358.8 365.09 L356.8 364.08 L355 362.9 L355 362.79 L354.8 362.79 L352.8 361.68 L350.8 360.57 L350.8 360.12 L350 360.12 L350 359.94 L348.8 359.94 L348.8 359.62 L346.8 359.62 L346.8 359.34 L345 359.34 L345 358.93 L344.8 358.93 L343 355.23 L343 355.02 L342.8 355.02 L340.8 352.91 L340 352.07 L338.8 351.2 L337 349.14 L337 348.71 L336.8 348.71 L334.8 344.43 L334 342.71 L332.8 341.34 L331 339.29 L331 338.89 L330.8 338.89 L329 335.33 L329 334.94 L328.8 334.94 L327 331.38 L327 331.23 L326.8 331.23 L324.8 328.81 L322.8 326 L320.8 323.2 Z" fill="#4a5fa8" fill-opacity="0.3" stroke="none"/>
<path d="M320.8 323.2 L323.9 323.2 L323.9 324.1 L327 324.1 L327 325 L329 328 L331 331 L334 333 L337 338 L340 340 L343 343 L345 347 L350 347 L350 347.5 L355 350 L360 353 L364 356 L366 359 L370 362 L379.2 366.5 L385 370 L389.6 372.3 L392.5 372.3 L392.5 372.9 L395.4 372.9 L395.4 373.5 L398.1 373.5 L398.1 374.27 L400.8 374.27 L400.8 375.03 L403.5 375.03 L403.5 375.8 L406.35 375.8 L406.35 376.65 L409.2 376.65 L409.2 377.5 L411.9 377.5 L411.9 378.35 L414.6 378.35 L414.6 379.2 L431.5 379.2 L431.5 379.7 L440 379.7 L440 379.5 L442.9 379.5 L442.9 380.35 L445.8 380.35 L445.8 381.2 L448.2 381.2 L448.2 381.67 L450.6 381.67 L450.6 382.13 L453 382.13 L453 382.6 L455.4 382.6 L455.4 383.07 L457.8 383.07 L457.8 383.53 L460.2 383.53 L460.2 384 L462.7 384 L462.7 384.05 L465.2 384.05 L465.2 384.11 L467.7 384.11 L467.7 384.16 L470.2 384.16 L470.2 384.21 L472.7 384.21 L472.7 384.27 L475.2 384.27 L475.2 384.32 L477.7 384.32 L477.7 384.37 L480.2 384.37 L480.2 384.43 L482.7 384.43 L482.7 384.48 L485.2 384.48 L485.2 384.53 L487.7 384.53 L487.7 384.59 L490.2 384.59 L490.2 384.64 L492.7 384.64 L492.7 384.69 L495.2 384.69 L495.2 384.75 L497.7 384.75 L497.7 384.8 L499.2 387 L501.77 387 L501.77 387.47 L504.33 387.47 L504.33 387.93 L506.9 387.93 L506.9 388.4" fill="none" stroke="#1f3a6e" stroke-width="1.5" stroke-linejoin="miter"/>
<path d="M320.8 322.6 L323.53 322.6 L323.53 322.9 L326.27 322.9 L326.27 323.2 L329 323.2 L329 323.5 L331 325 L333 327 L335 327 L335 327.5 L337 327.5 L337 328 L343 332 L346 333.5 L350 333.5 L350 334 L352.5 334 L352.5 335 L355 335 L355 336 L357.9 336 L357.9 336.85 L360.8 336.85 L360.8 337.7 L363.3 337.7 L363.3 338.08 L365.8 338.08 L365.8 338.47 L368.3 338.47 L368.3 338.85 L370.8 338.85 L370.8 339.23 L373.3 339.23 L373.3 339.62 L375.8 339.62 L375.8 340 L378.1 344.6 L380.4 344.6 L380.4 345.18 L382.7 345.18 L382.7 345.75 L385 345.75 L385 346.32 L387.3 346.32 L387.3 346.9 L389.6 346.9 L389.6 347.48 L391.9 347.48 L391.9 348.06 L394.2 348.06 L394.2 348.64 L396.5 348.64 L396.5 349.22 L398.8 349.22 L398.8 349.8 L403.5 352.1 L405.8 352.1 L405.8 352.98 L408.1 352.98 L408.1 353.85 L410.4 353.85 L410.4 354.73 L412.7 354.73 L412.7 355.6 L413.8 360.8 L416.13 360.8 L416.13 361.53 L418.47 361.53 L418.47 362.27 L420.8 362.27 L420.8 363 L423.37 363 L423.37 364.07 L425.93 364.07 L425.93 365.13 L428.5 365.13 L428.5 366.2 L430.8 366.2 L430.8 366.57 L433.1 366.57 L433.1 366.95 L435.4 366.95 L435.4 367.32 L437.7 367.32 L437.7 367.7 L440.27 367.7 L440.27 368.73 L442.83 368.73 L442.83 369.77 L445.4 369.77 L445.4 370.8 L450 373.8 L452.67 373.8 L452.67 374.07 L455.33 374.07 L455.33 374.33 L458 374.33 L458 374.6 L460.67 374.6 L460.67 374.87 L463.33 374.87 L463.33 375.13 L466 375.13 L466 375.4 L468.6 375.4 L468.6 375.98 L471.2 375.98 L471.2 376.56 L473.8 376.56 L473.8 377.14 L476.4 377.14 L476.4 377.72 L479 377.72 L479 378.3 L480.4 380.5 L483 380.5 L483 380.64 L485.6 380.64 L485.6 380.78 L488.2 380.78 L488.2 380.92 L490.8 380.92 L490.8 381.06 L493.4 381.06 L493.4 381.2 L496.1 381.2 L496.1 381.34 L498.8 381.34 L498.8 381.48 L501.5 381.48 L501.5 381.62 L504.2 381.62 L504.2 381.76 L506.9 381.76 L506.9 381.9" fill="none" stroke="#e38a27" stroke-width="1.5" stroke-linejoin="miter"/>
<path d="M320.8 322.6 L323.24 322.6 L323.24 322.88 L325.68 322.88 L325.68 323.16 L328.12 323.16 L328.12 323.44 L330.56 323.44 L330.56 323.72 L333 323.72 L333 324 L335 326 L337 328 L340 332 L342 335 L346 338 L348 342 L350 344 L351 349 L355 351 L360.8 353.8 L372.3 353.8 L372.3 354.4 L374.6 354.4 L374.6 354.76 L376.9 354.76 L376.9 355.12 L379.2 355.12 L379.2 355.48 L381.5 355.48 L381.5 355.84 L383.8 355.84 L383.8 356.2 L386.5 356.2 L386.5 357.13 L389.2 357.13 L389.2 358.07 L391.9 358.07 L391.9 359 L412.7 359 L412.7 359 L414.87 359 L414.87 359.83 L417.03 359.83 L417.03 360.67 L419.2 360.67 L419.2 361.5 L421.52 361.5 L421.52 362.07 L423.85 362.07 L423.85 362.65 L426.18 362.65 L426.18 363.23 L428.5 363.23 L428.5 363.8 L434.6 367 L437.3 367 L437.3 367.75 L440 367.75 L440 368.5 L442.35 368.5 L442.35 368.64 L444.7 368.64 L444.7 368.77 L447.05 368.77 L447.05 368.91 L449.4 368.91 L449.4 369.05 L451.75 369.05 L451.75 369.19 L454.1 369.19 L454.1 369.33 L456.45 369.33 L456.45 369.46 L458.8 369.46 L458.8 369.6 L460.2 371 L463.1 371 L463.1 371.6 L466 371.6 L466 372.2 L468.9 372.2 L468.9 372.8 L471.2 372.8 L471.2 372.98 L473.5 372.98 L473.5 373.16 L475.8 373.16 L475.8 373.34 L478.1 373.34 L478.1 373.52 L480.4 373.52 L480.4 373.7 L481.8 374.7 L506.9 374.7 L506.9 374.7" fill="none" stroke="#3f9a41" stroke-width="1.5" stroke-linejoin="miter"/>
<path d="M320.8 322.6 L343.5 322.6 L343.5 322.6 L344 322.6 L344 325 L349.5 325 L349.5 325 L350 325 L350 327.5 L359 327.5 L359 327.5 L360 338 L383.8 338 L383.8 338.3 L384.4 338.3 L384.4 341.2 L397.1 341.2 L397.1 341.2 L397.7 341.2 L397.7 344 L409.2 344 L409.2 344 L409.8 346.9 L412.55 346.9 L412.55 347.1 L415.3 347.1 L415.3 347.3 L418.05 347.3 L418.05 347.5 L420.8 347.5 L420.8 347.7 L422.3 350.8 L424.65 350.8 L424.65 351.15 L427 351.15 L427 351.5 L427.7 353 L447.7 353 L447.7 353 L448.5 357.4 L452.3 357.4 L452.3 357.4 L453 361.3 L506.9 361.3 L506.9 361.3" fill="none" stroke="#c0192f" stroke-width="1.5" stroke-linejoin="miter"/>
<line x1="313.3" y1="317.4" x2="313.3" y2="437.8" stroke="#111" stroke-width="1.35"/>
<line x1="312.7" y1="437.2" x2="510.8" y2="437.2" stroke="#111" stroke-width="1.35"/>
<line x1="309.8" y1="322.8" x2="313.3" y2="322.8" stroke="#231f20" stroke-width="1.0"/>
<text x="306.5" y="325.8" font-size="8.8" text-anchor="end" font-weight="normal" font-style="normal" fill="#231f20" >1.0</text>
<line x1="309.8" y1="344.66" x2="313.3" y2="344.66" stroke="#231f20" stroke-width="1.0"/>
<text x="306.5" y="347.66" font-size="8.8" text-anchor="end" font-weight="normal" font-style="normal" fill="#231f20" >0.8</text>
<line x1="309.8" y1="366.52" x2="313.3" y2="366.52" stroke="#231f20" stroke-width="1.0"/>
<text x="306.5" y="369.52" font-size="8.8" text-anchor="end" font-weight="normal" font-style="normal" fill="#231f20" >0.6</text>
<line x1="309.8" y1="388.38" x2="313.3" y2="388.38" stroke="#231f20" stroke-width="1.0"/>
<text x="306.5" y="391.38" font-size="8.8" text-anchor="end" font-weight="normal" font-style="normal" fill="#231f20" >0.4</text>
<line x1="309.8" y1="410.24" x2="313.3" y2="410.24" stroke="#231f20" stroke-width="1.0"/>
<text x="306.5" y="413.24" font-size="8.8" text-anchor="end" font-weight="normal" font-style="normal" fill="#231f20" >0.2</text>
<line x1="309.8" y1="432.1" x2="313.3" y2="432.1" stroke="#231f20" stroke-width="1.0"/>
<text x="306.5" y="435.1" font-size="8.8" text-anchor="end" font-weight="normal" font-style="normal" fill="#231f20" >0.0</text>
<line x1="320.8" y1="437.2" x2="320.8" y2="440.7" stroke="#231f20" stroke-width="1.0"/>
<text x="320.8" y="452.3" font-size="8.8" text-anchor="middle" font-weight="normal" font-style="normal" fill="#231f20" >0</text>
<line x1="358.04" y1="437.2" x2="358.04" y2="440.7" stroke="#231f20" stroke-width="1.0"/>
<text x="358.04" y="452.3" font-size="8.8" text-anchor="middle" font-weight="normal" font-style="normal" fill="#231f20" >1</text>
<line x1="395.28" y1="437.2" x2="395.28" y2="440.7" stroke="#231f20" stroke-width="1.0"/>
<text x="395.28" y="452.3" font-size="8.8" text-anchor="middle" font-weight="normal" font-style="normal" fill="#231f20" >2</text>
<line x1="432.52" y1="437.2" x2="432.52" y2="440.7" stroke="#231f20" stroke-width="1.0"/>
<text x="432.52" y="452.3" font-size="8.8" text-anchor="middle" font-weight="normal" font-style="normal" fill="#231f20" >3</text>
<line x1="469.76" y1="437.2" x2="469.76" y2="440.7" stroke="#231f20" stroke-width="1.0"/>
<text x="469.76" y="452.3" font-size="8.8" text-anchor="middle" font-weight="normal" font-style="normal" fill="#231f20" >4</text>
<line x1="507" y1="437.2" x2="507" y2="440.7" stroke="#231f20" stroke-width="1.0"/>
<text x="507" y="452.3" font-size="8.8" text-anchor="middle" font-weight="normal" font-style="normal" fill="#231f20" >5</text>
<text x="345" y="467.4" font-size="10.2" fill="#231f20" stroke="#231f20" stroke-width="0.3" textLength="14.87" lengthAdjust="spacingAndGlyphs">Time</text>
<text x="362.26" y="467.4" font-size="10.2" fill="#231f20" stroke="#231f20" stroke-width="0.3" textLength="15.96" lengthAdjust="spacingAndGlyphs">since</text>
<text x="380.52" y="467.4" font-size="10.2" fill="#231f20" stroke="#231f20" stroke-width="0.3" textLength="22.25" lengthAdjust="spacingAndGlyphs">second</text>
<text x="405.96" y="467.4" font-size="10.2" fill="#231f20" stroke="#231f20" stroke-width="0.3" textLength="12.27" lengthAdjust="spacingAndGlyphs">line</text>
<text x="420.63" y="467.4" font-size="10.2" fill="#231f20" stroke="#231f20" stroke-width="0.3" textLength="32.63" lengthAdjust="spacingAndGlyphs">treatment</text>
<text x="455.55" y="467.4" font-size="10.2" fill="#231f20" stroke="#231f20" stroke-width="0.3" textLength="22.85" lengthAdjust="spacingAndGlyphs">(years)</text>
<text x="0" y="0" font-size="10" fill="#231f20" stroke="#231f20" stroke-width="0.4" textLength="21.6" lengthAdjust="spacingAndGlyphs" transform="translate(288 408.5) rotate(-90)">Survival</text>
<text x="23.6" y="0" font-size="10" fill="#231f20" stroke="#231f20" stroke-width="0.4" textLength="39" lengthAdjust="spacingAndGlyphs" transform="translate(288 408.5) rotate(-90)">probability</text>
<line x1="320.3" y1="389.5" x2="330.9" y2="389.5" stroke="#1f3a6e" stroke-width="1.2"/>
<text x="334.4" y="392.7" font-size="8.35" text-anchor="start" font-weight="normal" font-style="normal" fill="#231f20" >CC no HSCT</text>
<line x1="320.3" y1="402.5" x2="330.9" y2="402.5" stroke="#e38a27" stroke-width="1.2"/>
<text x="334.4" y="405.15" font-size="8.35" text-anchor="start" font-weight="normal" font-style="normal" fill="#231f20" >SA no HSCT</text>
<line x1="320.3" y1="414.5" x2="330.9" y2="414.5" stroke="#3f9a41" stroke-width="1.2"/>
<text x="334.4" y="417.6" font-size="8.35" text-anchor="start" font-weight="normal" font-style="normal" fill="#231f20" >CC with HSCT</text>
<line x1="320.3" y1="427" x2="330.9" y2="427" stroke="#c0192f" stroke-width="1.2"/>
<text x="334.4" y="430.05" font-size="8.35" text-anchor="start" font-weight="normal" font-style="normal" fill="#231f20" >SA with HSCT</text>
<text x="410.4" y="430.9" font-size="9" text-anchor="start" font-weight="normal" font-style="italic" fill="#333" >P</text>
<rect x="418.5" y="426.3" width="6.2" height="3.3" fill="#6a6a6a"/>
<text x="426.5" y="430.9" font-size="9.2" text-anchor="start" font-weight="normal" font-style="normal" fill="#333" >.001</text>
<text x="282.6" y="480.7" font-size="9.1" text-anchor="start" font-weight="normal" font-style="normal" fill="#231f20" >CC no HSCT</text>
<text x="306.5" y="494" font-size="8.8" text-anchor="end" font-weight="normal" font-style="normal" fill="#231f20" >At risk</text>
<text x="320.8" y="494" font-size="8.8" text-anchor="middle" font-weight="normal" font-style="normal" fill="#231f20" >155</text>
<text x="358.04" y="494" font-size="8.8" text-anchor="middle" font-weight="normal" font-style="normal" fill="#231f20" >95</text>
<text x="395.28" y="494" font-size="8.8" text-anchor="middle" font-weight="normal" font-style="normal" fill="#231f20" >52</text>
<text x="432.52" y="494" font-size="8.8" text-anchor="middle" font-weight="normal" font-style="normal" fill="#231f20" >36</text>
<text x="469.76" y="494" font-size="8.8" text-anchor="middle" font-weight="normal" font-style="normal" fill="#231f20" >24</text>
<text x="507" y="494" font-size="8.8" text-anchor="middle" font-weight="normal" font-style="normal" fill="#231f20" >17</text>
<text x="306.5" y="507.25" font-size="8.8" text-anchor="end" font-weight="normal" font-style="normal" fill="#231f20" >Censored</text>
<text x="320.8" y="507.25" font-size="8.8" text-anchor="middle" font-weight="normal" font-style="normal" fill="#231f20" >0</text>
<text x="358.04" y="507.25" font-size="8.8" text-anchor="middle" font-weight="normal" font-style="normal" fill="#231f20" >21</text>
<text x="395.28" y="507.25" font-size="8.8" text-anchor="middle" font-weight="normal" font-style="normal" fill="#231f20" >41</text>
<text x="432.52" y="507.25" font-size="8.8" text-anchor="middle" font-weight="normal" font-style="normal" fill="#231f20" >53</text>
<text x="469.76" y="507.25" font-size="8.8" text-anchor="middle" font-weight="normal" font-style="normal" fill="#231f20" >62</text>
<text x="507" y="507.25" font-size="8.8" text-anchor="middle" font-weight="normal" font-style="normal" fill="#231f20" >67</text>
<text x="306.5" y="520.5" font-size="8.8" text-anchor="end" font-weight="normal" font-style="normal" fill="#231f20" >Events</text>
<text x="320.8" y="520.5" font-size="8.8" text-anchor="middle" font-weight="normal" font-style="normal" fill="#231f20" >0</text>
<text x="358.04" y="520.5" font-size="8.8" text-anchor="middle" font-weight="normal" font-style="normal" fill="#231f20" >39</text>
<text x="395.28" y="520.5" font-size="8.8" text-anchor="middle" font-weight="normal" font-style="normal" fill="#231f20" >62</text>
<text x="432.52" y="520.5" font-size="8.8" text-anchor="middle" font-weight="normal" font-style="normal" fill="#231f20" >66</text>
<text x="469.76" y="520.5" font-size="8.8" text-anchor="middle" font-weight="normal" font-style="normal" fill="#231f20" >69</text>
<text x="507" y="520.5" font-size="8.8" text-anchor="middle" font-weight="normal" font-style="normal" fill="#231f20" >71</text>
<text x="282.6" y="537.2" font-size="9.1" text-anchor="start" font-weight="normal" font-style="normal" fill="#231f20" >SA no HSCT</text>
<text x="306.5" y="550.5" font-size="8.8" text-anchor="end" font-weight="normal" font-style="normal" fill="#231f20" >At risk</text>
<text x="320.8" y="550.5" font-size="8.8" text-anchor="middle" font-weight="normal" font-style="normal" fill="#231f20" >98</text>
<text x="358.04" y="550.5" font-size="8.8" text-anchor="middle" font-weight="normal" font-style="normal" fill="#231f20" >75</text>
<text x="395.28" y="550.5" font-size="8.8" text-anchor="middle" font-weight="normal" font-style="normal" fill="#231f20" >59</text>
<text x="432.52" y="550.5" font-size="8.8" text-anchor="middle" font-weight="normal" font-style="normal" fill="#231f20" >37</text>
<text x="469.76" y="550.5" font-size="8.8" text-anchor="middle" font-weight="normal" font-style="normal" fill="#231f20" >20</text>
<text x="507" y="550.5" font-size="8.8" text-anchor="middle" font-weight="normal" font-style="normal" fill="#231f20" >11</text>
<text x="306.5" y="563.75" font-size="8.8" text-anchor="end" font-weight="normal" font-style="normal" fill="#231f20" >Censored</text>
<text x="320.8" y="563.75" font-size="8.8" text-anchor="middle" font-weight="normal" font-style="normal" fill="#231f20" >0</text>
<text x="358.04" y="563.75" font-size="8.8" text-anchor="middle" font-weight="normal" font-style="normal" fill="#231f20" >11</text>
<text x="395.28" y="563.75" font-size="8.8" text-anchor="middle" font-weight="normal" font-style="normal" fill="#231f20" >19</text>
<text x="432.52" y="563.75" font-size="8.8" text-anchor="middle" font-weight="normal" font-style="normal" fill="#231f20" >28</text>
<text x="469.76" y="563.75" font-size="8.8" text-anchor="middle" font-weight="normal" font-style="normal" fill="#231f20" >40</text>
<text x="507" y="563.75" font-size="8.8" text-anchor="middle" font-weight="normal" font-style="normal" fill="#231f20" >47</text>
<text x="306.5" y="577" font-size="8.8" text-anchor="end" font-weight="normal" font-style="normal" fill="#231f20" >Events</text>
<text x="320.8" y="577" font-size="8.8" text-anchor="middle" font-weight="normal" font-style="normal" fill="#231f20" >0</text>
<text x="358.04" y="577" font-size="8.8" text-anchor="middle" font-weight="normal" font-style="normal" fill="#231f20" >12</text>
<text x="395.28" y="577" font-size="8.8" text-anchor="middle" font-weight="normal" font-style="normal" fill="#231f20" >20</text>
<text x="432.52" y="577" font-size="8.8" text-anchor="middle" font-weight="normal" font-style="normal" fill="#231f20" >33</text>
<text x="469.76" y="577" font-size="8.8" text-anchor="middle" font-weight="normal" font-style="normal" fill="#231f20" >38</text>
<text x="507" y="577" font-size="8.8" text-anchor="middle" font-weight="normal" font-style="normal" fill="#231f20" >40</text>
<text x="282.6" y="593.7" font-size="9.1" text-anchor="start" font-weight="normal" font-style="normal" fill="#231f20" >CC with HSCT</text>
<text x="306.5" y="607" font-size="8.8" text-anchor="end" font-weight="normal" font-style="normal" fill="#231f20" >At risk</text>
<text x="320.8" y="607" font-size="8.8" text-anchor="middle" font-weight="normal" font-style="normal" fill="#231f20" >76</text>
<text x="358.04" y="607" font-size="8.8" text-anchor="middle" font-weight="normal" font-style="normal" fill="#231f20" >50</text>
<text x="395.28" y="607" font-size="8.8" text-anchor="middle" font-weight="normal" font-style="normal" fill="#231f20" >41</text>
<text x="432.52" y="607" font-size="8.8" text-anchor="middle" font-weight="normal" font-style="normal" fill="#231f20" >34</text>
<text x="469.76" y="607" font-size="8.8" text-anchor="middle" font-weight="normal" font-style="normal" fill="#231f20" >29</text>
<text x="507" y="607" font-size="8.8" text-anchor="middle" font-weight="normal" font-style="normal" fill="#231f20" >25</text>
<text x="306.5" y="620.25" font-size="8.8" text-anchor="end" font-weight="normal" font-style="normal" fill="#231f20" >Censored</text>
<text x="320.8" y="620.25" font-size="8.8" text-anchor="middle" font-weight="normal" font-style="normal" fill="#231f20" >0</text>
<text x="358.04" y="620.25" font-size="8.8" text-anchor="middle" font-weight="normal" font-style="normal" fill="#231f20" >6</text>
<text x="395.28" y="620.25" font-size="8.8" text-anchor="middle" font-weight="normal" font-style="normal" fill="#231f20" >11</text>
<text x="432.52" y="620.25" font-size="8.8" text-anchor="middle" font-weight="normal" font-style="normal" fill="#231f20" >14</text>
<text x="469.76" y="620.25" font-size="8.8" text-anchor="middle" font-weight="normal" font-style="normal" fill="#231f20" >16</text>
<text x="507" y="620.25" font-size="8.8" text-anchor="middle" font-weight="normal" font-style="normal" fill="#231f20" >19</text>
<text x="306.5" y="633.5" font-size="8.8" text-anchor="end" font-weight="normal" font-style="normal" fill="#231f20" >Events</text>
<text x="320.8" y="633.5" font-size="8.8" text-anchor="middle" font-weight="normal" font-style="normal" fill="#231f20" >0</text>
<text x="358.04" y="633.5" font-size="8.8" text-anchor="middle" font-weight="normal" font-style="normal" fill="#231f20" >20</text>
<text x="395.28" y="633.5" font-size="8.8" text-anchor="middle" font-weight="normal" font-style="normal" fill="#231f20" >24</text>
<text x="432.52" y="633.5" font-size="8.8" text-anchor="middle" font-weight="normal" font-style="normal" fill="#231f20" >28</text>
<text x="469.76" y="633.5" font-size="8.8" text-anchor="middle" font-weight="normal" font-style="normal" fill="#231f20" >31</text>
<text x="507" y="633.5" font-size="8.8" text-anchor="middle" font-weight="normal" font-style="normal" fill="#231f20" >32</text>
<text x="282.6" y="650.2" font-size="9.1" text-anchor="start" font-weight="normal" font-style="normal" fill="#231f20" >SA with HSCT</text>
<text x="306.5" y="663.5" font-size="8.8" text-anchor="end" font-weight="normal" font-style="normal" fill="#231f20" >At risk</text>
<text x="320.8" y="663.5" font-size="8.8" text-anchor="middle" font-weight="normal" font-style="normal" fill="#231f20" >44</text>
<text x="358.04" y="663.5" font-size="8.8" text-anchor="middle" font-weight="normal" font-style="normal" fill="#231f20" >39</text>
<text x="395.28" y="663.5" font-size="8.8" text-anchor="middle" font-weight="normal" font-style="normal" fill="#231f20" >32</text>
<text x="432.52" y="663.5" font-size="8.8" text-anchor="middle" font-weight="normal" font-style="normal" fill="#231f20" >22</text>
<text x="469.76" y="663.5" font-size="8.8" text-anchor="middle" font-weight="normal" font-style="normal" fill="#231f20" >16</text>
<text x="507" y="663.5" font-size="8.8" text-anchor="middle" font-weight="normal" font-style="normal" fill="#231f20" >11</text>
<text x="306.5" y="676.75" font-size="8.8" text-anchor="end" font-weight="normal" font-style="normal" fill="#231f20" >Censored</text>
<text x="320.8" y="676.75" font-size="8.8" text-anchor="middle" font-weight="normal" font-style="normal" fill="#231f20" >0</text>
<text x="358.04" y="676.75" font-size="8.8" text-anchor="middle" font-weight="normal" font-style="normal" fill="#231f20" >3</text>
<text x="395.28" y="676.75" font-size="8.8" text-anchor="middle" font-weight="normal" font-style="normal" fill="#231f20" >5</text>
<text x="432.52" y="676.75" font-size="8.8" text-anchor="middle" font-weight="normal" font-style="normal" fill="#231f20" >11</text>
<text x="469.76" y="676.75" font-size="8.8" text-anchor="middle" font-weight="normal" font-style="normal" fill="#231f20" >15</text>
<text x="507" y="676.75" font-size="8.8" text-anchor="middle" font-weight="normal" font-style="normal" fill="#231f20" >20</text>
<text x="306.5" y="690" font-size="8.8" text-anchor="end" font-weight="normal" font-style="normal" fill="#231f20" >Events</text>
<text x="320.8" y="690" font-size="8.8" text-anchor="middle" font-weight="normal" font-style="normal" fill="#231f20" >0</text>
<text x="358.04" y="690" font-size="8.8" text-anchor="middle" font-weight="normal" font-style="normal" fill="#231f20" >2</text>
<text x="395.28" y="690" font-size="8.8" text-anchor="middle" font-weight="normal" font-style="normal" fill="#231f20" >7</text>
<text x="432.52" y="690" font-size="8.8" text-anchor="middle" font-weight="normal" font-style="normal" fill="#231f20" >11</text>
<text x="469.76" y="690" font-size="8.8" text-anchor="middle" font-weight="normal" font-style="normal" fill="#231f20" >13</text>
<text x="507" y="690" font-size="8.8" text-anchor="middle" font-weight="normal" font-style="normal" fill="#231f20" >13</text>
<rect x="0.5" y="0.5" width="519" height="699" fill="none" stroke="#4a4a4a" stroke-width="1"/>
</svg>
</body></html>
